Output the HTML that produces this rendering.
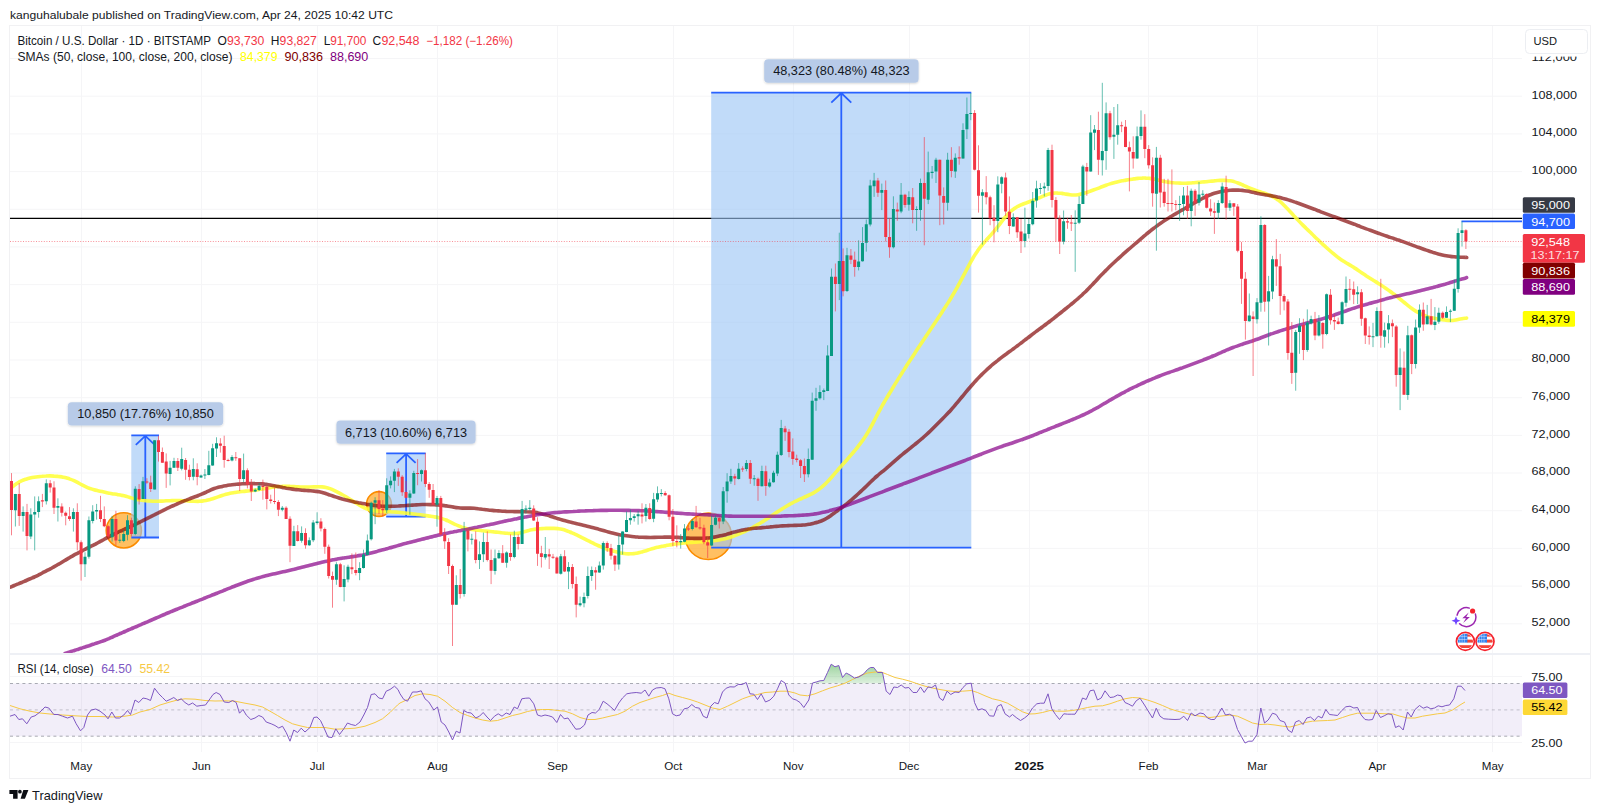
<!DOCTYPE html>
<html lang="en"><head><meta charset="utf-8"><title>BTCUSD chart</title>
<style>html,body{margin:0;padding:0;background:#fff}body{width:1600px;height:812px;overflow:hidden}svg{display:block}text{white-space:pre}</style>
</head><body>
<svg width="1600" height="812" viewBox="0 0 1600 812" font-family="'Liberation Sans', Arial, sans-serif">
<defs><filter id="sh" x="-5%" y="-20%" width="110%" height="150%"><feDropShadow dx="0" dy="0.8" stdDeviation="0.9" flood-color="#000" flood-opacity="0.18"/></filter><linearGradient id="ob" x1="0" y1="0" x2="0" y2="1"><stop offset="0" stop-color="#4caf50" stop-opacity="0.55"/><stop offset="1" stop-color="#4caf50" stop-opacity="0.05"/></linearGradient><clipPath id="main"><rect x="10" y="26" width="1512" height="627.5"/></clipPath><clipPath id="ob70"><rect x="10" y="654" width="1512" height="29.5"/></clipPath><clipPath id="c1"><circle cx="1465.4" cy="641.4" r="7.7"/></clipPath><clipPath id="c2"><circle cx="1485" cy="641.4" r="7.7"/></clipPath></defs>
<rect width="1600" height="812" fill="#fff"/>
<path d="M10 623.8H1522 M10 586.1H1522 M10 548.4H1522 M10 510.7H1522 M10 473.0H1522 M10 435.4H1522 M10 397.7H1522 M10 360.0H1522 M10 322.3H1522 M10 284.6H1522 M10 246.9H1522 M10 209.3H1522 M10 171.6H1522 M10 133.9H1522 M10 96.2H1522 M10 58.5H1522 M10 676.5H1522 M10 742.5H1522 M81.5 26V752 M201.5 26V752 M317.5 26V752 M437.5 26V752 M557.5 26V752 M673.5 26V752 M793.5 26V752 M909.5 26V752 M1029.5 26V752 M1148.5 26V752 M1257.5 26V752 M1377.5 26V752 M1492.5 26V752" stroke="#f5f5f7" stroke-width="1" fill="none"/>
<rect x="10" y="683.5" width="1512" height="52.7" fill="#7e57c2" fill-opacity="0.1"/>
<path d="M10 683.5H1522" stroke="#787b86" stroke-opacity="0.62" stroke-width="1" stroke-dasharray="3 3.2" fill="none"/>
<path d="M10 709.9H1522" stroke="#787b86" stroke-opacity="0.4" stroke-width="1" stroke-dasharray="3 3.2" fill="none"/>
<path d="M10 736.2H1522" stroke="#787b86" stroke-opacity="0.62" stroke-width="1" stroke-dasharray="3 3.2" fill="none"/>
<g clip-path="url(#main)">
<circle cx="123.8" cy="530.4" r="17.6" fill="#ffa726" fill-opacity="0.72" stroke="#fb8c00" stroke-width="1.6"/>
<circle cx="379.0" cy="504.0" r="12.4" fill="#ffa726" fill-opacity="0.72" stroke="#fb8c00" stroke-width="1.6"/>
<circle cx="708.4" cy="536.3" r="23.2" fill="#ffa726" fill-opacity="0.72" stroke="#fb8c00" stroke-width="1.6"/>
<path d="M10 218.4H1522" stroke="#000" stroke-width="1.3" fill="none"/>
<rect x="131.3" y="435.4" width="27.7" height="102.1" fill="#9bc5f5" fill-opacity="0.62"/>
<path d="M131.3 435.4H159.0M131.3 537.5H159.0M145.3 435.4V537.5M135.8 444.9L145.3 435.9L154.8 444.9" stroke="#2962ff" stroke-width="1.8" fill="none"/>
<rect x="386.2" y="453.4" width="39.5" height="63.2" fill="#9bc5f5" fill-opacity="0.62"/>
<path d="M386.2 453.4H425.7M386.2 516.6H425.7M406.1 453.4V516.6M396.6 462.9L406.1 453.9L415.6 462.9" stroke="#2962ff" stroke-width="1.8" fill="none"/>
<rect x="711.2" y="92.6" width="260.1" height="455.0" fill="#9bc5f5" fill-opacity="0.62"/>
<path d="M711.2 92.6H971.3M711.2 547.6H971.3M841.3 92.6V547.6M831.3 102.6L841.3 93.1L851.3 102.6" stroke="#2962ff" stroke-width="1.8" fill="none"/>
<path d="M1461.5 221.3H1522" stroke="#2962ff" stroke-width="1.8" fill="none"/>
<path d="M10.0 488.8C10.7 488.3 12.7 486.5 14.0 485.5C15.3 484.5 16.7 483.5 18.0 482.7C19.3 481.9 20.7 481.2 22.0 480.6C23.3 480.0 24.7 479.6 26.0 479.2C27.3 478.8 28.7 478.4 30.0 478.1C31.3 477.8 32.7 477.5 34.0 477.3C35.3 477.1 36.7 476.9 38.0 476.7C39.3 476.6 40.7 476.4 42.0 476.3C43.3 476.1 44.7 476.0 46.0 476.0C47.3 475.9 48.7 475.9 50.0 475.9C51.3 475.9 52.7 476.0 54.0 476.1C55.3 476.1 56.7 476.2 58.0 476.4C59.3 476.5 60.7 476.7 62.0 476.9C63.3 477.2 64.7 477.4 66.0 477.8C67.3 478.2 68.7 478.6 70.0 479.1C71.3 479.5 72.7 480.1 74.0 480.7C75.3 481.3 76.7 482.0 78.0 482.7C79.3 483.4 80.7 484.2 82.0 484.8C83.3 485.5 84.7 486.2 86.0 486.8C87.3 487.4 88.7 488.0 90.0 488.5C91.3 488.9 92.7 489.3 94.0 489.7C95.3 490.1 96.7 490.4 98.0 490.7C99.3 491.0 100.7 491.3 102.0 491.6C103.3 491.9 104.7 492.2 106.0 492.5C107.3 492.8 108.7 493.0 110.0 493.3C111.3 493.5 112.7 493.8 114.0 494.0C115.3 494.2 116.7 494.4 118.0 494.7C119.3 494.9 120.7 495.1 122.0 495.4C123.3 495.6 124.7 495.9 126.0 496.3C127.3 496.7 128.7 497.1 130.0 497.5C131.3 497.9 132.7 498.4 134.0 498.7C135.3 499.1 136.7 499.4 138.0 499.6C139.3 499.9 140.7 500.1 142.0 500.3C143.3 500.5 144.7 500.6 146.0 500.7C147.3 500.9 148.7 501.0 150.0 501.0C151.3 501.1 152.7 501.2 154.0 501.2C155.3 501.2 156.7 501.2 158.0 501.2C159.3 501.2 160.7 501.1 162.0 501.1C163.3 501.0 164.7 500.9 166.0 500.8C167.3 500.8 168.7 500.7 170.0 500.7C171.3 500.6 172.7 500.6 174.0 500.5C175.3 500.5 176.7 500.5 178.0 500.5C179.3 500.5 180.7 500.5 182.0 500.6C183.3 500.6 184.7 500.7 186.0 500.8C187.3 500.9 188.7 501.0 190.0 501.1C191.3 501.2 192.7 501.3 194.0 501.3C195.3 501.4 196.7 501.4 198.0 501.4C199.3 501.3 200.7 501.3 202.0 501.1C203.3 500.9 204.7 500.7 206.0 500.5C207.3 500.2 208.7 499.8 210.0 499.5C211.3 499.1 212.7 498.7 214.0 498.2C215.3 497.8 216.7 497.4 218.0 496.9C219.3 496.5 220.7 496.0 222.0 495.5C223.3 495.1 224.7 494.7 226.0 494.3C227.3 493.9 228.7 493.6 230.0 493.3C231.3 493.0 232.7 492.8 234.0 492.6C235.3 492.3 236.7 492.2 238.0 492.0C239.3 491.8 240.7 491.7 242.0 491.5C243.3 491.4 244.7 491.3 246.0 491.1C247.3 491.0 248.7 490.9 250.0 490.8C251.3 490.6 252.7 490.5 254.0 490.3C255.3 490.1 256.7 489.9 258.0 489.7C259.3 489.5 260.7 489.2 262.0 489.0C263.3 488.8 264.7 488.5 266.0 488.3C267.3 488.1 268.7 487.8 270.0 487.6C271.3 487.4 272.7 487.1 274.0 486.9C275.3 486.8 276.7 486.6 278.0 486.5C279.3 486.4 280.7 486.3 282.0 486.3C283.3 486.2 284.7 486.3 286.0 486.3C287.3 486.3 288.7 486.3 290.0 486.4C291.3 486.4 292.7 486.5 294.0 486.6C295.3 486.7 296.7 486.8 298.0 486.8C299.3 486.9 300.7 487.0 302.0 487.0C303.3 487.0 304.7 487.1 306.0 487.0C307.3 487.0 308.7 487.0 310.0 487.0C311.3 486.9 312.7 486.9 314.0 486.9C315.3 486.9 316.7 486.8 318.0 486.8C319.3 486.8 320.7 486.8 322.0 486.9C323.3 487.0 324.7 487.2 326.0 487.5C327.3 487.8 328.7 488.2 330.0 488.6C331.3 489.1 332.7 489.7 334.0 490.3C335.3 490.9 336.7 491.6 338.0 492.3C339.3 493.0 340.7 493.7 342.0 494.5C343.3 495.2 344.7 496.0 346.0 496.8C347.3 497.6 348.7 498.4 350.0 499.2C351.3 500.0 352.7 500.9 354.0 501.7C355.3 502.6 356.7 503.5 358.0 504.3C359.3 505.1 360.7 505.9 362.0 506.6C363.3 507.3 364.7 508.0 366.0 508.5C367.3 509.1 368.7 509.5 370.0 509.8C371.3 510.2 372.7 510.4 374.0 510.6C375.3 510.8 376.7 510.9 378.0 511.1C379.3 511.2 380.7 511.3 382.0 511.4C383.3 511.5 384.7 511.5 386.0 511.6C387.3 511.7 388.7 511.8 390.0 511.8C391.3 511.9 392.7 512.0 394.0 512.0C395.3 512.1 396.7 512.2 398.0 512.3C399.3 512.4 400.7 512.5 402.0 512.7C403.3 512.8 404.7 512.9 406.0 513.1C407.3 513.2 408.7 513.4 410.0 513.5C411.3 513.7 412.7 513.8 414.0 514.0C415.3 514.2 416.7 514.3 418.0 514.5C419.3 514.7 420.7 514.9 422.0 515.0C423.3 515.2 424.7 515.4 426.0 515.6C427.3 515.8 428.7 515.9 430.0 516.1C431.3 516.3 432.7 516.5 434.0 516.8C435.3 517.0 436.7 517.2 438.0 517.5C439.3 517.9 440.7 518.2 442.0 518.6C443.3 519.0 444.7 519.5 446.0 520.0C447.3 520.6 448.7 521.2 450.0 521.8C451.3 522.4 452.7 523.1 454.0 523.8C455.3 524.4 456.7 525.1 458.0 525.7C459.3 526.3 460.7 526.8 462.0 527.3C463.3 527.7 464.7 528.1 466.0 528.4C467.3 528.7 468.7 529.0 470.0 529.2C471.3 529.4 472.7 529.6 474.0 529.8C475.3 530.0 476.7 530.1 478.0 530.3C479.3 530.4 480.7 530.5 482.0 530.7C483.3 530.8 484.7 530.9 486.0 531.1C487.3 531.2 488.7 531.3 490.0 531.5C491.3 531.6 492.7 531.7 494.0 531.9C495.3 532.0 496.7 532.2 498.0 532.3C499.3 532.5 500.7 532.6 502.0 532.8C503.3 532.9 504.7 533.1 506.0 533.2C507.3 533.3 508.7 533.5 510.0 533.5C511.3 533.6 512.7 533.6 514.0 533.6C515.3 533.5 516.7 533.4 518.0 533.2C519.3 533.0 520.7 532.7 522.0 532.4C523.3 532.1 524.7 531.6 526.0 531.2C527.3 530.9 528.7 530.5 530.0 530.1C531.3 529.8 532.7 529.6 534.0 529.4C535.3 529.2 536.7 529.0 538.0 528.9C539.3 528.8 540.7 528.7 542.0 528.6C543.3 528.5 544.7 528.5 546.0 528.4C547.3 528.4 548.7 528.4 550.0 528.4C551.3 528.4 552.7 528.4 554.0 528.4C555.3 528.4 556.7 528.5 558.0 528.6C559.3 528.8 560.7 529.0 562.0 529.3C563.3 529.6 564.7 530.0 566.0 530.5C567.3 530.9 568.7 531.5 570.0 532.0C571.3 532.6 572.7 533.1 574.0 533.7C575.3 534.3 576.7 535.0 578.0 535.6C579.3 536.2 580.7 536.9 582.0 537.6C583.3 538.2 584.7 538.9 586.0 539.6C587.3 540.3 588.7 540.9 590.0 541.6C591.3 542.3 592.7 542.9 594.0 543.6C595.3 544.2 596.7 544.9 598.0 545.5C599.3 546.1 600.7 546.6 602.0 547.2C603.3 547.7 604.7 548.2 606.0 548.7C607.3 549.2 608.7 549.7 610.0 550.1C611.3 550.5 612.7 550.9 614.0 551.3C615.3 551.7 616.7 552.0 618.0 552.4C619.3 552.7 620.7 553.0 622.0 553.2C623.3 553.4 624.7 553.6 626.0 553.7C627.3 553.8 628.7 553.9 630.0 553.8C631.3 553.8 632.7 553.8 634.0 553.6C635.3 553.4 636.7 553.2 638.0 552.9C639.3 552.7 640.7 552.3 642.0 551.9C643.3 551.6 644.7 551.1 646.0 550.7C647.3 550.3 648.7 549.8 650.0 549.4C651.3 549.0 652.7 548.6 654.0 548.2C655.3 547.8 656.7 547.5 658.0 547.2C659.3 546.9 660.7 546.6 662.0 546.3C663.3 546.1 664.7 545.8 666.0 545.6C667.3 545.3 668.7 545.1 670.0 544.9C671.3 544.7 672.7 544.5 674.0 544.3C675.3 544.1 676.7 543.9 678.0 543.7C679.3 543.5 680.7 543.4 682.0 543.2C683.3 543.1 684.7 543.0 686.0 542.8C687.3 542.7 688.7 542.6 690.0 542.5C691.3 542.4 692.7 542.3 694.0 542.2C695.3 542.1 696.7 542.1 698.0 542.0C699.3 541.9 700.7 541.8 702.0 541.8C703.3 541.7 704.7 541.6 706.0 541.5C707.3 541.4 708.7 541.2 710.0 541.1C711.3 540.9 712.7 540.8 714.0 540.6C715.3 540.5 716.7 540.3 718.0 540.1C719.3 539.8 720.7 539.6 722.0 539.3C723.3 539.1 724.7 538.8 726.0 538.5C727.3 538.1 728.7 537.8 730.0 537.4C731.3 537.0 732.7 536.5 734.0 536.0C735.3 535.5 736.7 535.0 738.0 534.4C739.3 533.9 740.7 533.3 742.0 532.7C743.3 532.1 744.7 531.5 746.0 530.9C747.3 530.2 748.7 529.5 750.0 528.8C751.3 528.2 752.7 527.4 754.0 526.7C755.3 526.0 756.7 525.2 758.0 524.4C759.3 523.6 760.7 522.8 762.0 522.0C763.3 521.2 764.7 520.4 766.0 519.5C767.3 518.7 768.7 517.8 770.0 516.9C771.3 516.0 772.7 515.1 774.0 514.2C775.3 513.3 776.7 512.4 778.0 511.5C779.3 510.6 780.7 509.8 782.0 508.9C783.3 508.1 784.7 507.3 786.0 506.5C787.3 505.7 788.7 504.9 790.0 504.1C791.3 503.4 792.7 502.7 794.0 502.0C795.3 501.3 796.7 500.7 798.0 500.1C799.3 499.5 800.7 498.9 802.0 498.3C803.3 497.7 804.7 497.1 806.0 496.5C807.3 496.0 808.7 495.4 810.0 494.7C811.3 494.1 812.7 493.4 814.0 492.6C815.3 491.8 816.7 490.9 818.0 490.0C819.3 489.0 820.7 488.0 822.0 486.9C823.3 485.8 824.7 484.6 826.0 483.3C827.3 481.9 828.7 480.5 830.0 479.0C831.3 477.5 832.7 475.9 834.0 474.4C835.3 472.8 836.7 471.3 838.0 469.8C839.3 468.3 840.7 466.8 842.0 465.3C843.3 463.8 844.7 462.3 846.0 460.8C847.3 459.3 848.7 457.8 850.0 456.2C851.3 454.7 852.7 453.1 854.0 451.5C855.3 449.9 856.7 448.3 858.0 446.6C859.3 444.9 860.7 443.2 862.0 441.3C863.3 439.5 864.7 437.6 866.0 435.4C867.3 433.3 868.7 431.1 870.0 428.7C871.3 426.3 872.7 423.7 874.0 421.1C875.3 418.6 876.7 415.9 878.0 413.4C879.3 410.9 880.7 408.4 882.0 406.0C883.3 403.6 884.7 401.4 886.0 399.1C887.3 396.9 888.7 394.7 890.0 392.5C891.3 390.3 892.7 388.1 894.0 385.9C895.3 383.7 896.7 381.5 898.0 379.4C899.3 377.2 900.7 375.1 902.0 373.0C903.3 370.9 904.7 368.8 906.0 366.7C907.3 364.6 908.7 362.6 910.0 360.5C911.3 358.5 912.7 356.4 914.0 354.4C915.3 352.4 916.7 350.3 918.0 348.3C919.3 346.3 920.7 344.3 922.0 342.3C923.3 340.3 924.7 338.3 926.0 336.3C927.3 334.3 928.7 332.3 930.0 330.3C931.3 328.3 932.7 326.3 934.0 324.3C935.3 322.2 936.7 320.2 938.0 318.2C939.3 316.2 940.7 314.2 942.0 312.2C943.3 310.1 944.7 308.1 946.0 306.0C947.3 303.9 948.7 301.8 950.0 299.7C951.3 297.5 952.7 295.2 954.0 292.9C955.3 290.6 956.7 288.2 958.0 285.8C959.3 283.4 960.7 280.9 962.0 278.4C963.3 275.9 964.7 273.3 966.0 270.8C967.3 268.3 968.7 265.7 970.0 263.3C971.3 260.9 972.7 258.6 974.0 256.4C975.3 254.2 976.7 252.2 978.0 250.3C979.3 248.4 980.7 246.7 982.0 245.1C983.3 243.4 984.7 241.9 986.0 240.4C987.3 238.8 988.7 237.4 990.0 235.9C991.3 234.4 992.7 232.9 994.0 231.3C995.3 229.7 996.7 228.1 998.0 226.4C999.3 224.7 1000.7 222.9 1002.0 221.2C1003.3 219.5 1004.7 217.8 1006.0 216.3C1007.3 214.7 1008.7 213.3 1010.0 212.1C1011.3 210.8 1012.7 209.7 1014.0 208.8C1015.3 207.8 1016.7 207.1 1018.0 206.3C1019.3 205.6 1020.7 205.0 1022.0 204.5C1023.3 203.9 1024.7 203.4 1026.0 203.0C1027.3 202.5 1028.7 202.0 1030.0 201.5C1031.3 201.0 1032.7 200.6 1034.0 200.0C1035.3 199.5 1036.7 198.9 1038.0 198.3C1039.3 197.8 1040.7 197.2 1042.0 196.6C1043.3 196.0 1044.7 195.5 1046.0 195.0C1047.3 194.6 1048.7 194.1 1050.0 193.8C1051.3 193.5 1052.7 193.3 1054.0 193.1C1055.3 193.0 1056.7 193.0 1058.0 193.1C1059.3 193.1 1060.7 193.3 1062.0 193.4C1063.3 193.6 1064.7 193.9 1066.0 194.1C1067.3 194.3 1068.7 194.5 1070.0 194.7C1071.3 194.9 1072.7 195.0 1074.0 195.0C1075.3 195.0 1076.7 194.9 1078.0 194.7C1079.3 194.5 1080.7 194.2 1082.0 193.8C1083.3 193.5 1084.7 193.0 1086.0 192.6C1087.3 192.2 1088.7 191.7 1090.0 191.3C1091.3 190.8 1092.7 190.3 1094.0 189.8C1095.3 189.4 1096.7 188.9 1098.0 188.4C1099.3 187.9 1100.7 187.3 1102.0 186.8C1103.3 186.3 1104.7 185.8 1106.0 185.3C1107.3 184.8 1108.7 184.3 1110.0 183.9C1111.3 183.5 1112.7 183.1 1114.0 182.7C1115.3 182.4 1116.7 182.0 1118.0 181.7C1119.3 181.4 1120.7 181.1 1122.0 180.8C1123.3 180.6 1124.7 180.3 1126.0 180.1C1127.3 179.9 1128.7 179.7 1130.0 179.5C1131.3 179.3 1132.7 179.1 1134.0 178.9C1135.3 178.7 1136.7 178.6 1138.0 178.4C1139.3 178.3 1140.7 178.1 1142.0 178.1C1143.3 178.0 1144.7 178.0 1146.0 178.1C1147.3 178.1 1148.7 178.3 1150.0 178.4C1151.3 178.6 1152.7 178.9 1154.0 179.1C1155.3 179.4 1156.7 179.7 1158.0 180.0C1159.3 180.3 1160.7 180.7 1162.0 181.0C1163.3 181.3 1164.7 181.5 1166.0 181.8C1167.3 182.0 1168.7 182.2 1170.0 182.4C1171.3 182.5 1172.7 182.6 1174.0 182.8C1175.3 182.9 1176.7 183.0 1178.0 183.0C1179.3 183.1 1180.7 183.1 1182.0 183.2C1183.3 183.2 1184.7 183.2 1186.0 183.2C1187.3 183.1 1188.7 183.1 1190.0 183.0C1191.3 183.0 1192.7 182.8 1194.0 182.7C1195.3 182.6 1196.7 182.5 1198.0 182.4C1199.3 182.3 1200.7 182.2 1202.0 182.0C1203.3 181.9 1204.7 181.8 1206.0 181.7C1207.3 181.6 1208.7 181.4 1210.0 181.3C1211.3 181.2 1212.7 181.0 1214.0 180.9C1215.3 180.7 1216.7 180.6 1218.0 180.5C1219.3 180.4 1220.7 180.4 1222.0 180.3C1223.3 180.3 1224.7 180.3 1226.0 180.4C1227.3 180.5 1228.7 180.6 1230.0 180.8C1231.3 181.0 1232.7 181.3 1234.0 181.6C1235.3 182.0 1236.7 182.5 1238.0 183.0C1239.3 183.5 1240.7 184.1 1242.0 184.7C1243.3 185.3 1244.7 185.9 1246.0 186.5C1247.3 187.1 1248.7 187.7 1250.0 188.2C1251.3 188.7 1252.7 189.2 1254.0 189.7C1255.3 190.2 1256.7 190.7 1258.0 191.1C1259.3 191.6 1260.7 192.0 1262.0 192.5C1263.3 192.9 1264.7 193.3 1266.0 193.8C1267.3 194.3 1268.7 194.8 1270.0 195.4C1271.3 196.0 1272.7 196.6 1274.0 197.4C1275.3 198.1 1276.7 199.0 1278.0 199.9C1279.3 200.9 1280.7 202.0 1282.0 203.2C1283.3 204.4 1284.7 205.8 1286.0 207.2C1287.3 208.5 1288.7 210.0 1290.0 211.5C1291.3 212.9 1292.7 214.4 1294.0 215.9C1295.3 217.3 1296.7 218.7 1298.0 220.1C1299.3 221.5 1300.7 222.9 1302.0 224.2C1303.3 225.6 1304.7 226.9 1306.0 228.2C1307.3 229.5 1308.7 230.8 1310.0 232.1C1311.3 233.4 1312.7 234.7 1314.0 236.0C1315.3 237.3 1316.7 238.6 1318.0 239.8C1319.3 241.1 1320.7 242.3 1322.0 243.6C1323.3 244.8 1324.7 246.0 1326.0 247.2C1327.3 248.4 1328.7 249.6 1330.0 250.8C1331.3 252.0 1332.7 253.1 1334.0 254.2C1335.3 255.3 1336.7 256.4 1338.0 257.4C1339.3 258.4 1340.7 259.3 1342.0 260.2C1343.3 261.1 1344.7 261.9 1346.0 262.7C1347.3 263.5 1348.7 264.3 1350.0 265.1C1351.3 265.9 1352.7 266.7 1354.0 267.6C1355.3 268.4 1356.7 269.3 1358.0 270.2C1359.3 271.1 1360.7 272.1 1362.0 273.0C1363.3 273.9 1364.7 274.8 1366.0 275.7C1367.3 276.5 1368.7 277.4 1370.0 278.2C1371.3 279.1 1372.7 279.9 1374.0 280.7C1375.3 281.5 1376.7 282.3 1378.0 283.2C1379.3 284.0 1380.7 284.9 1382.0 285.8C1383.3 286.6 1384.7 287.6 1386.0 288.5C1387.3 289.4 1388.7 290.4 1390.0 291.3C1391.3 292.3 1392.7 293.3 1394.0 294.3C1395.3 295.3 1396.7 296.3 1398.0 297.4C1399.3 298.5 1400.7 299.5 1402.0 300.6C1403.3 301.7 1404.7 302.8 1406.0 303.9C1407.3 305.0 1408.7 306.1 1410.0 307.1C1411.3 308.1 1412.7 309.1 1414.0 310.0C1415.3 310.9 1416.7 311.8 1418.0 312.5C1419.3 313.2 1420.7 313.9 1422.0 314.5C1423.3 315.1 1424.7 315.6 1426.0 316.1C1427.3 316.6 1428.7 317.0 1430.0 317.4C1431.3 317.7 1432.7 318.1 1434.0 318.3C1435.3 318.6 1436.7 318.8 1438.0 319.0C1439.3 319.2 1440.7 319.4 1442.0 319.6C1443.3 319.8 1444.7 320.0 1446.0 320.1C1447.3 320.3 1448.7 320.5 1450.0 320.5C1451.3 320.5 1452.7 320.5 1454.0 320.3C1455.3 320.1 1456.7 319.8 1458.0 319.5C1459.3 319.2 1460.7 318.9 1462.0 318.7C1463.3 318.5 1465.2 318.3 1466.0 318.2C1466.8 318.1 1466.5 318.1 1466.6 318.1" stroke="#ffff33" stroke-opacity="0.85" stroke-width="3.6" stroke-linejoin="round" stroke-linecap="round" fill="none"/>
<path d="M10.3 587.2C11.0 586.9 13.0 586.1 14.3 585.5C15.6 585.0 17.0 584.4 18.3 583.9C19.6 583.3 21.0 582.7 22.3 582.2C23.6 581.6 25.0 581.1 26.3 580.5C27.6 579.9 29.0 579.3 30.3 578.8C31.6 578.2 33.0 577.6 34.3 577.0C35.6 576.4 37.0 575.7 38.3 575.1C39.6 574.4 41.0 573.7 42.3 573.0C43.6 572.3 45.0 571.6 46.3 570.9C47.6 570.2 49.0 569.5 50.3 568.8C51.6 568.1 53.0 567.3 54.3 566.6C55.6 565.9 57.0 565.1 58.3 564.3C59.6 563.6 61.0 562.8 62.3 562.0C63.6 561.2 65.0 560.4 66.3 559.6C67.6 558.8 69.0 558.0 70.3 557.2C71.6 556.5 73.0 555.7 74.3 554.9C75.6 554.2 77.0 553.5 78.3 552.8C79.6 552.1 81.0 551.4 82.3 550.8C83.6 550.1 85.0 549.4 86.3 548.7C87.6 548.1 89.0 547.4 90.3 546.7C91.6 546.0 93.0 545.4 94.3 544.7C95.6 544.0 97.0 543.2 98.3 542.5C99.6 541.8 101.0 541.0 102.3 540.3C103.6 539.6 105.0 538.8 106.3 538.1C107.6 537.4 109.0 536.7 110.3 536.0C111.6 535.3 113.0 534.6 114.3 534.0C115.6 533.3 117.0 532.7 118.3 532.1C119.6 531.5 121.0 530.9 122.3 530.3C123.6 529.7 125.0 529.1 126.3 528.5C127.6 527.9 129.0 527.3 130.3 526.7C131.6 526.1 133.0 525.4 134.3 524.8C135.6 524.1 137.0 523.4 138.3 522.8C139.6 522.1 141.0 521.4 142.3 520.8C143.6 520.1 145.0 519.4 146.3 518.8C147.6 518.1 149.0 517.4 150.3 516.8C151.6 516.1 153.0 515.4 154.3 514.8C155.6 514.1 157.0 513.4 158.3 512.8C159.6 512.1 161.0 511.4 162.3 510.8C163.6 510.1 165.0 509.4 166.3 508.8C167.6 508.2 169.0 507.5 170.3 506.9C171.6 506.3 173.0 505.7 174.3 505.2C175.6 504.6 177.0 504.0 178.3 503.4C179.6 502.9 181.0 502.3 182.3 501.7C183.6 501.2 185.0 500.6 186.3 500.1C187.6 499.5 189.0 499.0 190.3 498.5C191.6 498.0 193.0 497.5 194.3 497.0C195.6 496.5 197.0 496.1 198.3 495.5C199.6 495.0 201.0 494.5 202.3 493.9C203.6 493.3 205.0 492.7 206.3 492.1C207.6 491.5 209.0 490.8 210.3 490.2C211.6 489.6 213.0 489.0 214.3 488.5C215.6 488.1 217.0 487.7 218.3 487.3C219.6 486.9 221.0 486.7 222.3 486.4C223.6 486.1 225.0 485.9 226.3 485.7C227.6 485.4 229.0 485.2 230.3 485.0C231.6 484.9 233.0 484.7 234.3 484.5C235.6 484.4 237.0 484.2 238.3 484.1C239.6 484.0 241.0 483.9 242.3 483.8C243.6 483.7 245.0 483.7 246.3 483.6C247.6 483.6 249.0 483.5 250.3 483.5C251.6 483.5 253.0 483.5 254.3 483.6C255.6 483.6 257.0 483.6 258.3 483.7C259.6 483.7 261.0 483.8 262.3 483.9C263.6 484.1 265.0 484.2 266.3 484.4C267.6 484.6 269.0 484.8 270.3 485.0C271.6 485.3 273.0 485.6 274.3 485.8C275.6 486.1 277.0 486.4 278.3 486.6C279.6 486.9 281.0 487.2 282.3 487.4C283.6 487.7 285.0 487.9 286.3 488.2C287.6 488.4 289.0 488.6 290.3 488.8C291.6 489.0 293.0 489.2 294.3 489.4C295.6 489.5 297.0 489.7 298.3 489.8C299.6 489.9 301.0 490.1 302.3 490.2C303.6 490.3 305.0 490.4 306.3 490.5C307.6 490.6 309.0 490.6 310.3 490.7C311.6 490.8 313.0 490.9 314.3 491.1C315.6 491.2 317.0 491.4 318.3 491.6C319.6 491.9 321.0 492.2 322.3 492.5C323.6 492.9 325.0 493.3 326.3 493.8C327.6 494.2 329.0 494.7 330.3 495.1C331.6 495.6 333.0 496.0 334.3 496.5C335.6 496.9 337.0 497.3 338.3 497.7C339.6 498.2 341.0 498.6 342.3 499.0C343.6 499.3 345.0 499.7 346.3 500.1C347.6 500.4 349.0 500.7 350.3 501.0C351.6 501.3 353.0 501.6 354.3 501.9C355.6 502.2 357.0 502.4 358.3 502.7C359.6 503.0 361.0 503.2 362.3 503.5C363.6 503.7 365.0 503.9 366.3 504.2C367.6 504.4 369.0 504.6 370.3 504.8C371.6 505.0 373.0 505.2 374.3 505.4C375.6 505.6 377.0 505.7 378.3 505.9C379.6 506.0 381.0 506.1 382.3 506.2C383.6 506.3 385.0 506.4 386.3 506.4C387.6 506.4 389.0 506.4 390.3 506.3C391.6 506.3 393.0 506.2 394.3 506.2C395.6 506.1 397.0 506.0 398.3 506.0C399.6 505.9 401.0 505.8 402.3 505.7C403.6 505.7 405.0 505.6 406.3 505.5C407.6 505.4 409.0 505.4 410.3 505.3C411.6 505.2 413.0 505.1 414.3 505.0C415.6 504.9 417.0 504.8 418.3 504.7C419.6 504.6 421.0 504.5 422.3 504.5C423.6 504.5 425.0 504.4 426.3 504.5C427.6 504.5 429.0 504.5 430.3 504.6C431.6 504.6 433.0 504.7 434.3 504.7C435.6 504.8 437.0 504.9 438.3 505.0C439.6 505.2 441.0 505.3 442.3 505.4C443.6 505.6 445.0 505.7 446.3 505.9C447.6 506.1 449.0 506.3 450.3 506.5C451.6 506.8 453.0 507.0 454.3 507.2C455.6 507.5 457.0 507.7 458.3 507.8C459.6 508.0 461.0 508.1 462.3 508.1C463.6 508.2 465.0 508.1 466.3 508.1C467.6 508.1 469.0 508.1 470.3 508.1C471.6 508.1 473.0 508.2 474.3 508.3C475.6 508.4 477.0 508.6 478.3 508.8C479.6 508.9 481.0 509.1 482.3 509.3C483.6 509.4 485.0 509.6 486.3 509.7C487.6 509.9 489.0 510.0 490.3 510.2C491.6 510.3 493.0 510.5 494.3 510.6C495.6 510.7 497.0 510.8 498.3 510.9C499.6 511.0 501.0 511.1 502.3 511.2C503.6 511.3 505.0 511.3 506.3 511.4C507.6 511.4 509.0 511.5 510.3 511.5C511.6 511.5 513.0 511.6 514.3 511.6C515.6 511.6 517.0 511.6 518.3 511.6C519.6 511.6 521.0 511.6 522.3 511.7C523.6 511.7 525.0 511.7 526.3 511.8C527.6 511.8 529.0 511.9 530.3 512.0C531.6 512.1 533.0 512.2 534.3 512.3C535.6 512.5 537.0 512.7 538.3 513.0C539.6 513.2 541.0 513.5 542.3 513.9C543.6 514.2 545.0 514.6 546.3 514.9C547.6 515.3 549.0 515.7 550.3 516.2C551.6 516.6 553.0 517.0 554.3 517.5C555.6 517.9 557.0 518.4 558.3 518.8C559.6 519.2 561.0 519.6 562.3 520.0C563.6 520.4 565.0 520.7 566.3 521.1C567.6 521.4 569.0 521.7 570.3 522.1C571.6 522.4 573.0 522.7 574.3 523.1C575.6 523.4 577.0 523.7 578.3 524.1C579.6 524.4 581.0 524.8 582.3 525.1C583.6 525.4 585.0 525.8 586.3 526.1C587.6 526.4 589.0 526.8 590.3 527.1C591.6 527.4 593.0 527.8 594.3 528.1C595.6 528.4 597.0 528.8 598.3 529.1C599.6 529.5 601.0 529.9 602.3 530.2C603.6 530.6 605.0 531.0 606.3 531.4C607.6 531.8 609.0 532.1 610.3 532.5C611.6 532.8 613.0 533.2 614.3 533.5C615.6 533.8 617.0 534.1 618.3 534.4C619.6 534.7 621.0 535.0 622.3 535.2C623.6 535.4 625.0 535.6 626.3 535.8C627.6 536.0 629.0 536.2 630.3 536.3C631.6 536.5 633.0 536.6 634.3 536.7C635.6 536.9 637.0 537.0 638.3 537.1C639.6 537.1 641.0 537.2 642.3 537.3C643.6 537.4 645.0 537.4 646.3 537.4C647.6 537.5 649.0 537.5 650.3 537.5C651.6 537.5 653.0 537.5 654.3 537.4C655.6 537.4 657.0 537.4 658.3 537.3C659.6 537.3 661.0 537.3 662.3 537.2C663.6 537.2 665.0 537.1 666.3 537.1C667.6 537.1 669.0 537.1 670.3 537.1C671.6 537.1 673.0 537.1 674.3 537.2C675.6 537.2 677.0 537.3 678.3 537.4C679.6 537.5 681.0 537.7 682.3 537.8C683.6 537.9 685.0 538.0 686.3 538.1C687.6 538.1 689.0 538.2 690.3 538.2C691.6 538.3 693.0 538.3 694.3 538.4C695.6 538.4 697.0 538.4 698.3 538.4C699.6 538.4 701.0 538.3 702.3 538.3C703.6 538.2 705.0 538.2 706.3 538.1C707.6 538.0 709.0 537.9 710.3 537.7C711.6 537.5 713.0 537.3 714.3 537.1C715.6 536.9 717.0 536.6 718.3 536.3C719.6 536.0 721.0 535.7 722.3 535.4C723.6 535.1 725.0 534.7 726.3 534.4C727.6 534.0 729.0 533.6 730.3 533.2C731.6 532.8 733.0 532.4 734.3 532.1C735.6 531.7 737.0 531.4 738.3 531.1C739.6 530.7 741.0 530.4 742.3 530.1C743.6 529.9 745.0 529.6 746.3 529.4C747.6 529.1 749.0 528.9 750.3 528.8C751.6 528.6 753.0 528.5 754.3 528.3C755.6 528.2 757.0 528.1 758.3 528.0C759.6 527.9 761.0 527.8 762.3 527.6C763.6 527.5 765.0 527.4 766.3 527.3C767.6 527.1 769.0 527.0 770.3 526.9C771.6 526.8 773.0 526.7 774.3 526.5C775.6 526.4 777.0 526.3 778.3 526.2C779.6 526.1 781.0 526.0 782.3 525.9C783.6 525.8 785.0 525.7 786.3 525.7C787.6 525.6 789.0 525.6 790.3 525.5C791.6 525.5 793.0 525.4 794.3 525.4C795.6 525.4 797.0 525.3 798.3 525.3C799.6 525.2 801.0 525.2 802.3 525.1C803.6 525.0 805.0 524.9 806.3 524.7C807.6 524.6 809.0 524.3 810.3 524.1C811.6 523.8 813.0 523.5 814.3 523.1C815.6 522.8 817.0 522.4 818.3 522.0C819.6 521.5 821.0 521.1 822.3 520.5C823.6 520.0 825.0 519.3 826.3 518.5C827.6 517.8 829.0 516.9 830.3 516.0C831.6 515.0 833.0 514.0 834.3 513.1C835.6 512.1 837.0 511.1 838.3 510.1C839.6 509.1 841.0 508.2 842.3 507.2C843.6 506.2 845.0 505.1 846.3 504.1C847.6 503.0 849.0 502.0 850.3 500.8C851.6 499.7 853.0 498.6 854.3 497.4C855.6 496.2 857.0 495.0 858.3 493.8C859.6 492.6 861.0 491.3 862.3 490.0C863.6 488.8 865.0 487.5 866.3 486.2C867.6 484.9 869.0 483.5 870.3 482.2C871.6 481.0 873.0 479.7 874.3 478.5C875.6 477.2 877.0 476.1 878.3 475.0C879.6 473.8 881.0 472.8 882.3 471.7C883.6 470.6 885.0 469.5 886.3 468.4C887.6 467.2 889.0 466.1 890.3 464.9C891.6 463.8 893.0 462.6 894.3 461.4C895.6 460.2 897.0 459.1 898.3 457.9C899.6 456.8 901.0 455.6 902.3 454.5C903.6 453.4 905.0 452.3 906.3 451.3C907.6 450.2 909.0 449.1 910.3 448.1C911.6 447.0 913.0 445.9 914.3 444.9C915.6 443.8 917.0 442.7 918.3 441.6C919.6 440.6 921.0 439.5 922.3 438.3C923.6 437.2 925.0 436.0 926.3 434.8C927.6 433.6 929.0 432.3 930.3 431.0C931.6 429.7 933.0 428.3 934.3 427.0C935.6 425.7 937.0 424.3 938.3 423.0C939.6 421.7 941.0 420.3 942.3 419.0C943.6 417.7 945.0 416.3 946.3 414.9C947.6 413.5 949.0 412.1 950.3 410.7C951.6 409.2 953.0 407.6 954.3 406.1C955.6 404.5 957.0 402.9 958.3 401.3C959.6 399.7 961.0 398.1 962.3 396.5C963.6 394.9 965.0 393.3 966.3 391.7C967.6 390.1 969.0 388.5 970.3 387.0C971.6 385.4 973.0 383.9 974.3 382.4C975.6 380.9 977.0 379.5 978.3 378.1C979.6 376.7 981.0 375.4 982.3 374.0C983.6 372.7 985.0 371.4 986.3 370.2C987.6 369.0 989.0 367.8 990.3 366.6C991.6 365.4 993.0 364.3 994.3 363.2C995.6 362.1 997.0 361.1 998.3 360.0C999.6 359.0 1001.0 357.9 1002.3 356.9C1003.6 355.9 1005.0 354.9 1006.3 354.0C1007.6 353.0 1009.0 352.0 1010.3 351.1C1011.6 350.1 1013.0 349.1 1014.3 348.1C1015.6 347.1 1017.0 346.1 1018.3 345.1C1019.6 344.1 1021.0 343.1 1022.3 342.1C1023.6 341.0 1025.0 340.0 1026.3 339.0C1027.6 338.0 1029.0 337.0 1030.3 336.0C1031.6 335.0 1033.0 333.9 1034.3 332.9C1035.6 331.9 1037.0 330.9 1038.3 329.9C1039.6 328.9 1041.0 328.0 1042.3 327.0C1043.6 326.0 1045.0 325.0 1046.3 324.0C1047.6 323.0 1049.0 322.0 1050.3 321.0C1051.6 319.9 1053.0 318.9 1054.3 317.8C1055.6 316.8 1057.0 315.7 1058.3 314.7C1059.6 313.6 1061.0 312.5 1062.3 311.5C1063.6 310.4 1065.0 309.3 1066.3 308.3C1067.6 307.2 1069.0 306.1 1070.3 305.0C1071.6 303.9 1073.0 302.9 1074.3 301.7C1075.6 300.6 1077.0 299.4 1078.3 298.3C1079.6 297.1 1081.0 295.9 1082.3 294.7C1083.6 293.4 1085.0 292.2 1086.3 290.9C1087.6 289.6 1089.0 288.2 1090.3 286.8C1091.6 285.4 1093.0 284.0 1094.3 282.5C1095.6 281.1 1097.0 279.7 1098.3 278.3C1099.6 276.8 1101.0 275.4 1102.3 274.1C1103.6 272.7 1105.0 271.4 1106.3 270.0C1107.6 268.7 1109.0 267.4 1110.3 266.1C1111.6 264.8 1113.0 263.5 1114.3 262.3C1115.6 261.0 1117.0 259.8 1118.3 258.6C1119.6 257.4 1121.0 256.2 1122.3 255.0C1123.6 253.8 1125.0 252.6 1126.3 251.4C1127.6 250.3 1129.0 249.1 1130.3 248.0C1131.6 246.8 1133.0 245.7 1134.3 244.5C1135.6 243.4 1137.0 242.2 1138.3 241.1C1139.6 240.0 1141.0 238.8 1142.3 237.7C1143.6 236.5 1145.0 235.4 1146.3 234.2C1147.6 233.1 1149.0 232.0 1150.3 231.0C1151.6 229.9 1153.0 228.9 1154.3 227.9C1155.6 226.9 1157.0 225.9 1158.3 224.9C1159.6 224.0 1161.0 223.0 1162.3 222.1C1163.6 221.2 1165.0 220.3 1166.3 219.5C1167.6 218.6 1169.0 217.8 1170.3 216.9C1171.6 216.1 1173.0 215.3 1174.3 214.5C1175.6 213.7 1177.0 213.0 1178.3 212.2C1179.6 211.4 1181.0 210.7 1182.3 209.9C1183.6 209.1 1185.0 208.4 1186.3 207.6C1187.6 206.9 1189.0 206.1 1190.3 205.3C1191.6 204.5 1193.0 203.7 1194.3 202.9C1195.6 202.2 1197.0 201.4 1198.3 200.6C1199.6 199.9 1201.0 199.2 1202.3 198.5C1203.6 197.8 1205.0 197.1 1206.3 196.5C1207.6 195.9 1209.0 195.3 1210.3 194.8C1211.6 194.2 1213.0 193.7 1214.3 193.3C1215.6 192.9 1217.0 192.5 1218.3 192.2C1219.6 191.9 1221.0 191.6 1222.3 191.3C1223.6 191.1 1225.0 190.9 1226.3 190.7C1227.6 190.5 1229.0 190.4 1230.3 190.3C1231.6 190.1 1233.0 190.1 1234.3 190.0C1235.6 190.0 1237.0 190.0 1238.3 190.1C1239.6 190.2 1241.0 190.3 1242.3 190.4C1243.6 190.6 1245.0 190.8 1246.3 191.0C1247.6 191.2 1249.0 191.4 1250.3 191.7C1251.6 192.0 1253.0 192.3 1254.3 192.6C1255.6 192.8 1257.0 193.2 1258.3 193.5C1259.6 193.8 1261.0 194.1 1262.3 194.3C1263.6 194.6 1265.0 194.8 1266.3 195.0C1267.6 195.2 1269.0 195.4 1270.3 195.6C1271.6 195.9 1273.0 196.1 1274.3 196.3C1275.6 196.6 1277.0 196.9 1278.3 197.2C1279.6 197.5 1281.0 197.8 1282.3 198.2C1283.6 198.5 1285.0 198.9 1286.3 199.3C1287.6 199.7 1289.0 200.1 1290.3 200.5C1291.6 200.9 1293.0 201.4 1294.3 201.9C1295.6 202.3 1297.0 202.8 1298.3 203.2C1299.6 203.7 1301.0 204.2 1302.3 204.7C1303.6 205.2 1305.0 205.7 1306.3 206.2C1307.6 206.7 1309.0 207.2 1310.3 207.7C1311.6 208.2 1313.0 208.7 1314.3 209.2C1315.6 209.8 1317.0 210.3 1318.3 210.8C1319.6 211.3 1321.0 211.9 1322.3 212.4C1323.6 212.9 1325.0 213.4 1326.3 213.9C1327.6 214.4 1329.0 214.9 1330.3 215.4C1331.6 215.9 1333.0 216.4 1334.3 216.8C1335.6 217.3 1337.0 217.8 1338.3 218.3C1339.6 218.8 1341.0 219.2 1342.3 219.7C1343.6 220.2 1345.0 220.7 1346.3 221.2C1347.6 221.7 1349.0 222.2 1350.3 222.7C1351.6 223.2 1353.0 223.7 1354.3 224.2C1355.6 224.8 1357.0 225.3 1358.3 225.8C1359.6 226.3 1361.0 226.9 1362.3 227.4C1363.6 227.9 1365.0 228.4 1366.3 228.9C1367.6 229.3 1369.0 229.8 1370.3 230.3C1371.6 230.8 1373.0 231.3 1374.3 231.7C1375.6 232.2 1377.0 232.7 1378.3 233.2C1379.6 233.7 1381.0 234.1 1382.3 234.6C1383.6 235.1 1385.0 235.6 1386.3 236.0C1387.6 236.5 1389.0 236.9 1390.3 237.4C1391.6 237.8 1393.0 238.2 1394.3 238.7C1395.6 239.1 1397.0 239.6 1398.3 240.0C1399.6 240.5 1401.0 240.9 1402.3 241.4C1403.6 241.9 1405.0 242.4 1406.3 242.9C1407.6 243.4 1409.0 243.9 1410.3 244.4C1411.6 244.9 1413.0 245.4 1414.3 245.9C1415.6 246.4 1417.0 246.8 1418.3 247.3C1419.6 247.8 1421.0 248.3 1422.3 248.7C1423.6 249.2 1425.0 249.7 1426.3 250.1C1427.6 250.6 1429.0 251.0 1430.3 251.5C1431.6 251.9 1433.0 252.4 1434.3 252.8C1435.6 253.2 1437.0 253.6 1438.3 254.0C1439.6 254.3 1441.0 254.6 1442.3 254.9C1443.6 255.2 1445.0 255.5 1446.3 255.7C1447.6 256.0 1449.0 256.2 1450.3 256.4C1451.6 256.6 1453.0 256.7 1454.3 256.8C1455.6 257.0 1457.0 257.0 1458.3 257.1C1459.6 257.2 1461.0 257.3 1462.3 257.3C1463.6 257.4 1465.6 257.4 1466.3 257.4C1467.0 257.5 1466.5 257.5 1466.6 257.5" stroke="#800000" stroke-opacity="0.68" stroke-width="3.6" stroke-linejoin="round" stroke-linecap="round" fill="none"/>
<path d="M65.0 653.5C65.7 653.3 67.7 652.6 69.0 652.2C70.3 651.8 71.7 651.3 73.0 650.9C74.3 650.5 75.7 650.0 77.0 649.6C78.3 649.2 79.7 648.7 81.0 648.3C82.3 647.9 83.7 647.4 85.0 647.0C86.3 646.5 87.7 646.1 89.0 645.7C90.3 645.2 91.7 644.8 93.0 644.3C94.3 643.9 95.7 643.4 97.0 643.0C98.3 642.6 99.7 642.1 101.0 641.6C102.3 641.2 103.7 640.7 105.0 640.2C106.3 639.7 107.7 639.1 109.0 638.6C110.3 638.0 111.7 637.4 113.0 636.8C114.3 636.3 115.7 635.6 117.0 635.0C118.3 634.5 119.7 633.8 121.0 633.3C122.3 632.7 123.7 632.1 125.0 631.5C126.3 630.9 127.7 630.3 129.0 629.7C130.3 629.1 131.7 628.6 133.0 628.0C134.3 627.4 135.7 626.9 137.0 626.3C138.3 625.7 139.7 625.1 141.0 624.6C142.3 624.0 143.7 623.4 145.0 622.8C146.3 622.3 147.7 621.7 149.0 621.1C150.3 620.5 151.7 620.0 153.0 619.4C154.3 618.8 155.7 618.2 157.0 617.6C158.3 617.1 159.7 616.5 161.0 615.9C162.3 615.3 163.7 614.7 165.0 614.2C166.3 613.6 167.7 613.0 169.0 612.5C170.3 611.9 171.7 611.4 173.0 610.8C174.3 610.3 175.7 609.7 177.0 609.2C178.3 608.7 179.7 608.1 181.0 607.6C182.3 607.1 183.7 606.5 185.0 606.0C186.3 605.5 187.7 604.9 189.0 604.4C190.3 603.9 191.7 603.3 193.0 602.8C194.3 602.3 195.7 601.7 197.0 601.2C198.3 600.7 199.7 600.1 201.0 599.6C202.3 599.1 203.7 598.5 205.0 598.0C206.3 597.5 207.7 596.9 209.0 596.4C210.3 595.9 211.7 595.3 213.0 594.8C214.3 594.3 215.7 593.7 217.0 593.2C218.3 592.7 219.7 592.1 221.0 591.6C222.3 591.1 223.7 590.5 225.0 590.0C226.3 589.5 227.7 588.9 229.0 588.4C230.3 587.9 231.7 587.3 233.0 586.8C234.3 586.3 235.7 585.7 237.0 585.2C238.3 584.7 239.7 584.2 241.0 583.7C242.3 583.2 243.7 582.7 245.0 582.2C246.3 581.7 247.7 581.3 249.0 580.8C250.3 580.4 251.7 580.0 253.0 579.5C254.3 579.1 255.7 578.7 257.0 578.3C258.3 577.9 259.7 577.5 261.0 577.1C262.3 576.7 263.7 576.3 265.0 576.0C266.3 575.7 267.7 575.3 269.0 575.0C270.3 574.7 271.7 574.4 273.0 574.1C274.3 573.8 275.7 573.5 277.0 573.2C278.3 572.9 279.7 572.6 281.0 572.3C282.3 572.0 283.7 571.7 285.0 571.4C286.3 571.1 287.7 570.8 289.0 570.5C290.3 570.2 291.7 569.9 293.0 569.6C294.3 569.2 295.7 568.9 297.0 568.6C298.3 568.3 299.7 567.9 301.0 567.6C302.3 567.3 303.7 566.9 305.0 566.6C306.3 566.3 307.7 565.9 309.0 565.6C310.3 565.3 311.7 564.9 313.0 564.6C314.3 564.3 315.7 563.9 317.0 563.6C318.3 563.3 319.7 562.9 321.0 562.6C322.3 562.3 323.7 561.9 325.0 561.6C326.3 561.3 327.7 561.0 329.0 560.7C330.3 560.4 331.7 560.1 333.0 559.8C334.3 559.6 335.7 559.3 337.0 559.1C338.3 558.8 339.7 558.6 341.0 558.4C342.3 558.2 343.7 557.9 345.0 557.7C346.3 557.5 347.7 557.4 349.0 557.2C350.3 557.0 351.7 556.8 353.0 556.6C354.3 556.4 355.7 556.2 357.0 556.0C358.3 555.7 359.7 555.5 361.0 555.3C362.3 555.0 363.7 554.8 365.0 554.5C366.3 554.2 367.7 553.9 369.0 553.6C370.3 553.2 371.7 552.9 373.0 552.5C374.3 552.1 375.7 551.7 377.0 551.4C378.3 551.0 379.7 550.6 381.0 550.2C382.3 549.9 383.7 549.5 385.0 549.2C386.3 548.8 387.7 548.5 389.0 548.1C390.3 547.8 391.7 547.4 393.0 547.0C394.3 546.7 395.7 546.3 397.0 545.9C398.3 545.5 399.7 545.1 401.0 544.7C402.3 544.3 403.7 543.9 405.0 543.6C406.3 543.2 407.7 542.8 409.0 542.5C410.3 542.1 411.7 541.8 413.0 541.5C414.3 541.1 415.7 540.8 417.0 540.5C418.3 540.2 419.7 539.8 421.0 539.5C422.3 539.2 423.7 538.9 425.0 538.5C426.3 538.2 427.7 537.9 429.0 537.5C430.3 537.2 431.7 536.9 433.0 536.5C434.3 536.2 435.7 535.9 437.0 535.5C438.3 535.2 439.7 534.9 441.0 534.5C442.3 534.2 443.7 533.9 445.0 533.6C446.3 533.3 447.7 533.1 449.0 532.8C450.3 532.5 451.7 532.2 453.0 532.0C454.3 531.7 455.7 531.5 457.0 531.2C458.3 531.0 459.7 530.7 461.0 530.5C462.3 530.2 463.7 530.0 465.0 529.7C466.3 529.5 467.7 529.2 469.0 528.9C470.3 528.7 471.7 528.4 473.0 528.1C474.3 527.8 475.7 527.5 477.0 527.3C478.3 527.0 479.7 526.7 481.0 526.4C482.3 526.1 483.7 525.9 485.0 525.6C486.3 525.3 487.7 525.0 489.0 524.8C490.3 524.5 491.7 524.2 493.0 523.9C494.3 523.6 495.7 523.3 497.0 523.0C498.3 522.7 499.7 522.4 501.0 522.1C502.3 521.7 503.7 521.4 505.0 521.1C506.3 520.9 507.7 520.6 509.0 520.3C510.3 520.0 511.7 519.8 513.0 519.5C514.3 519.2 515.7 519.0 517.0 518.7C518.3 518.4 519.7 518.1 521.0 517.9C522.3 517.6 523.7 517.3 525.0 517.0C526.3 516.8 527.7 516.5 529.0 516.3C530.3 516.0 531.7 515.8 533.0 515.5C534.3 515.3 535.7 515.0 537.0 514.8C538.3 514.6 539.7 514.4 541.0 514.2C542.3 514.0 543.7 513.8 545.0 513.7C546.3 513.5 547.7 513.4 549.0 513.2C550.3 513.1 551.7 512.9 553.0 512.8C554.3 512.7 555.7 512.6 557.0 512.5C558.3 512.4 559.7 512.3 561.0 512.2C562.3 512.1 563.7 512.0 565.0 511.9C566.3 511.9 567.7 511.8 569.0 511.7C570.3 511.6 571.7 511.5 573.0 511.5C574.3 511.4 575.7 511.3 577.0 511.3C578.3 511.2 579.7 511.1 581.0 511.0C582.3 511.0 583.7 510.9 585.0 510.9C586.3 510.8 587.7 510.7 589.0 510.7C590.3 510.6 591.7 510.6 593.0 510.6C594.3 510.5 595.7 510.5 597.0 510.5C598.3 510.5 599.7 510.5 601.0 510.4C602.3 510.4 603.7 510.4 605.0 510.4C606.3 510.4 607.7 510.3 609.0 510.3C610.3 510.3 611.7 510.3 613.0 510.3C614.3 510.3 615.7 510.3 617.0 510.3C618.3 510.3 619.7 510.3 621.0 510.3C622.3 510.3 623.7 510.3 625.0 510.4C626.3 510.4 627.7 510.4 629.0 510.4C630.3 510.4 631.7 510.5 633.0 510.5C634.3 510.5 635.7 510.5 637.0 510.6C638.3 510.6 639.7 510.7 641.0 510.7C642.3 510.7 643.7 510.8 645.0 510.8C646.3 510.9 647.7 511.0 649.0 511.0C650.3 511.1 651.7 511.2 653.0 511.3C654.3 511.4 655.7 511.5 657.0 511.6C658.3 511.7 659.7 511.8 661.0 511.9C662.3 512.0 663.7 512.1 665.0 512.2C666.3 512.3 667.7 512.4 669.0 512.5C670.3 512.6 671.7 512.7 673.0 512.8C674.3 512.9 675.7 513.0 677.0 513.1C678.3 513.2 679.7 513.3 681.0 513.4C682.3 513.5 683.7 513.6 685.0 513.7C686.3 513.8 687.7 513.9 689.0 513.9C690.3 514.0 691.7 514.0 693.0 514.1C694.3 514.2 695.7 514.2 697.0 514.3C698.3 514.3 699.7 514.4 701.0 514.5C702.3 514.5 703.7 514.6 705.0 514.7C706.3 514.8 707.7 514.8 709.0 514.9C710.3 515.0 711.7 515.1 713.0 515.2C714.3 515.3 715.7 515.4 717.0 515.5C718.3 515.6 719.7 515.6 721.0 515.7C722.3 515.8 723.7 515.9 725.0 515.9C726.3 516.0 727.7 516.0 729.0 516.1C730.3 516.1 731.7 516.2 733.0 516.2C734.3 516.2 735.7 516.2 737.0 516.3C738.3 516.3 739.7 516.3 741.0 516.3C742.3 516.3 743.7 516.3 745.0 516.3C746.3 516.3 747.7 516.3 749.0 516.3C750.3 516.3 751.7 516.3 753.0 516.3C754.3 516.3 755.7 516.3 757.0 516.3C758.3 516.3 759.7 516.3 761.0 516.3C762.3 516.3 763.7 516.3 765.0 516.3C766.3 516.3 767.7 516.3 769.0 516.3C770.3 516.3 771.7 516.3 773.0 516.3C774.3 516.2 775.7 516.2 777.0 516.2C778.3 516.1 779.7 516.1 781.0 516.1C782.3 516.0 783.7 516.0 785.0 515.9C786.3 515.9 787.7 515.8 789.0 515.8C790.3 515.8 791.7 515.7 793.0 515.7C794.3 515.6 795.7 515.6 797.0 515.5C798.3 515.4 799.7 515.4 801.0 515.3C802.3 515.2 803.7 515.1 805.0 515.0C806.3 514.9 807.7 514.8 809.0 514.7C810.3 514.6 811.7 514.4 813.0 514.2C814.3 514.0 815.7 513.8 817.0 513.6C818.3 513.3 819.7 513.1 821.0 512.8C822.3 512.5 823.7 512.2 825.0 511.9C826.3 511.6 827.7 511.2 829.0 510.9C830.3 510.5 831.7 510.2 833.0 509.8C834.3 509.4 835.7 509.1 837.0 508.7C838.3 508.3 839.7 507.9 841.0 507.4C842.3 507.0 843.7 506.5 845.0 506.0C846.3 505.6 847.7 505.1 849.0 504.6C850.3 504.1 851.7 503.5 853.0 503.0C854.3 502.5 855.7 502.0 857.0 501.5C858.3 501.0 859.7 500.5 861.0 500.0C862.3 499.5 863.7 499.0 865.0 498.5C866.3 497.9 867.7 497.4 869.0 496.9C870.3 496.4 871.7 495.9 873.0 495.4C874.3 494.9 875.7 494.4 877.0 493.9C878.3 493.4 879.7 492.9 881.0 492.4C882.3 491.9 883.7 491.4 885.0 490.8C886.3 490.3 887.7 489.8 889.0 489.3C890.3 488.8 891.7 488.3 893.0 487.8C894.3 487.3 895.7 486.8 897.0 486.3C898.3 485.8 899.7 485.3 901.0 484.8C902.3 484.3 903.7 483.8 905.0 483.2C906.3 482.7 907.7 482.2 909.0 481.7C910.3 481.2 911.7 480.7 913.0 480.2C914.3 479.7 915.7 479.2 917.0 478.7C918.3 478.2 919.7 477.6 921.0 477.1C922.3 476.6 923.7 476.1 925.0 475.6C926.3 475.1 927.7 474.6 929.0 474.1C930.3 473.6 931.7 473.0 933.0 472.5C934.3 472.0 935.7 471.5 937.0 471.0C938.3 470.5 939.7 470.0 941.0 469.5C942.3 469.0 943.7 468.5 945.0 468.0C946.3 467.5 947.7 467.0 949.0 466.5C950.3 466.0 951.7 465.5 953.0 465.0C954.3 464.5 955.7 464.0 957.0 463.5C958.3 463.0 959.7 462.5 961.0 462.0C962.3 461.5 963.7 461.0 965.0 460.5C966.3 460.0 967.7 459.5 969.0 458.9C970.3 458.4 971.7 457.9 973.0 457.3C974.3 456.8 975.7 456.3 977.0 455.8C978.3 455.2 979.7 454.7 981.0 454.2C982.3 453.7 983.7 453.1 985.0 452.6C986.3 452.1 987.7 451.6 989.0 451.1C990.3 450.6 991.7 450.1 993.0 449.6C994.3 449.1 995.7 448.6 997.0 448.1C998.3 447.6 999.7 447.1 1001.0 446.7C1002.3 446.2 1003.7 445.8 1005.0 445.3C1006.3 444.9 1007.7 444.5 1009.0 444.0C1010.3 443.6 1011.7 443.2 1013.0 442.7C1014.3 442.3 1015.7 441.8 1017.0 441.3C1018.3 440.9 1019.7 440.4 1021.0 439.9C1022.3 439.4 1023.7 439.0 1025.0 438.5C1026.3 438.0 1027.7 437.5 1029.0 437.0C1030.3 436.5 1031.7 436.0 1033.0 435.5C1034.3 434.9 1035.7 434.4 1037.0 433.8C1038.3 433.3 1039.7 432.8 1041.0 432.2C1042.3 431.7 1043.7 431.1 1045.0 430.6C1046.3 430.1 1047.7 429.5 1049.0 429.0C1050.3 428.5 1051.7 427.9 1053.0 427.4C1054.3 426.9 1055.7 426.3 1057.0 425.8C1058.3 425.3 1059.7 424.7 1061.0 424.2C1062.3 423.7 1063.7 423.1 1065.0 422.6C1066.3 422.0 1067.7 421.5 1069.0 421.0C1070.3 420.4 1071.7 419.9 1073.0 419.3C1074.3 418.8 1075.7 418.2 1077.0 417.6C1078.3 417.1 1079.7 416.5 1081.0 415.9C1082.3 415.3 1083.7 414.7 1085.0 414.1C1086.3 413.4 1087.7 412.8 1089.0 412.1C1090.3 411.4 1091.7 410.7 1093.0 410.0C1094.3 409.3 1095.7 408.6 1097.0 407.8C1098.3 407.1 1099.7 406.3 1101.0 405.5C1102.3 404.7 1103.7 403.9 1105.0 403.2C1106.3 402.4 1107.7 401.5 1109.0 400.7C1110.3 400.0 1111.7 399.2 1113.0 398.4C1114.3 397.6 1115.7 396.9 1117.0 396.1C1118.3 395.4 1119.7 394.7 1121.0 393.9C1122.3 393.2 1123.7 392.5 1125.0 391.8C1126.3 391.1 1127.7 390.4 1129.0 389.7C1130.3 389.0 1131.7 388.4 1133.0 387.7C1134.3 387.1 1135.7 386.4 1137.0 385.8C1138.3 385.1 1139.7 384.5 1141.0 383.9C1142.3 383.3 1143.7 382.7 1145.0 382.1C1146.3 381.5 1147.7 380.9 1149.0 380.3C1150.3 379.8 1151.7 379.2 1153.0 378.6C1154.3 378.1 1155.7 377.5 1157.0 377.0C1158.3 376.4 1159.7 375.9 1161.0 375.4C1162.3 374.9 1163.7 374.4 1165.0 373.9C1166.3 373.4 1167.7 372.9 1169.0 372.5C1170.3 372.0 1171.7 371.5 1173.0 371.1C1174.3 370.6 1175.7 370.2 1177.0 369.7C1178.3 369.2 1179.7 368.8 1181.0 368.3C1182.3 367.8 1183.7 367.4 1185.0 366.9C1186.3 366.4 1187.7 365.9 1189.0 365.4C1190.3 364.9 1191.7 364.4 1193.0 363.9C1194.3 363.4 1195.7 362.9 1197.0 362.4C1198.3 361.9 1199.7 361.4 1201.0 360.9C1202.3 360.4 1203.7 359.8 1205.0 359.3C1206.3 358.8 1207.7 358.2 1209.0 357.7C1210.3 357.1 1211.7 356.6 1213.0 356.0C1214.3 355.5 1215.7 354.9 1217.0 354.3C1218.3 353.7 1219.7 353.1 1221.0 352.6C1222.3 352.0 1223.7 351.4 1225.0 350.8C1226.3 350.2 1227.7 349.7 1229.0 349.1C1230.3 348.6 1231.7 348.1 1233.0 347.5C1234.3 347.0 1235.7 346.5 1237.0 346.1C1238.3 345.6 1239.7 345.1 1241.0 344.6C1242.3 344.2 1243.7 343.7 1245.0 343.3C1246.3 342.9 1247.7 342.5 1249.0 342.0C1250.3 341.6 1251.7 341.2 1253.0 340.7C1254.3 340.3 1255.7 339.8 1257.0 339.3C1258.3 338.9 1259.7 338.3 1261.0 337.8C1262.3 337.3 1263.7 336.8 1265.0 336.3C1266.3 335.8 1267.7 335.3 1269.0 334.8C1270.3 334.3 1271.7 333.8 1273.0 333.4C1274.3 332.9 1275.7 332.4 1277.0 332.0C1278.3 331.5 1279.7 331.1 1281.0 330.6C1282.3 330.2 1283.7 329.8 1285.0 329.4C1286.3 329.0 1287.7 328.6 1289.0 328.2C1290.3 327.8 1291.7 327.4 1293.0 327.0C1294.3 326.6 1295.7 326.2 1297.0 325.8C1298.3 325.5 1299.7 325.1 1301.0 324.7C1302.3 324.4 1303.7 324.0 1305.0 323.6C1306.3 323.3 1307.7 322.9 1309.0 322.5C1310.3 322.2 1311.7 321.8 1313.0 321.4C1314.3 321.1 1315.7 320.7 1317.0 320.3C1318.3 320.0 1319.7 319.6 1321.0 319.2C1322.3 318.8 1323.7 318.4 1325.0 318.0C1326.3 317.6 1327.7 317.1 1329.0 316.7C1330.3 316.3 1331.7 315.8 1333.0 315.4C1334.3 314.9 1335.7 314.5 1337.0 314.0C1338.3 313.5 1339.7 313.1 1341.0 312.6C1342.3 312.1 1343.7 311.7 1345.0 311.2C1346.3 310.7 1347.7 310.3 1349.0 309.8C1350.3 309.4 1351.7 308.9 1353.0 308.4C1354.3 308.0 1355.7 307.6 1357.0 307.1C1358.3 306.7 1359.7 306.3 1361.0 305.9C1362.3 305.5 1363.7 305.1 1365.0 304.8C1366.3 304.4 1367.7 304.0 1369.0 303.6C1370.3 303.3 1371.7 302.9 1373.0 302.5C1374.3 302.2 1375.7 301.8 1377.0 301.5C1378.3 301.1 1379.7 300.7 1381.0 300.3C1382.3 300.0 1383.7 299.5 1385.0 299.1C1386.3 298.7 1387.7 298.3 1389.0 298.0C1390.3 297.6 1391.7 297.3 1393.0 297.0C1394.3 296.7 1395.7 296.4 1397.0 296.1C1398.3 295.8 1399.7 295.5 1401.0 295.2C1402.3 294.9 1403.7 294.6 1405.0 294.3C1406.3 294.0 1407.7 293.7 1409.0 293.4C1410.3 293.1 1411.7 292.8 1413.0 292.5C1414.3 292.2 1415.7 291.8 1417.0 291.5C1418.3 291.2 1419.7 290.8 1421.0 290.5C1422.3 290.2 1423.7 289.8 1425.0 289.5C1426.3 289.2 1427.7 288.8 1429.0 288.5C1430.3 288.2 1431.7 287.8 1433.0 287.5C1434.3 287.1 1435.7 286.8 1437.0 286.4C1438.3 286.1 1439.7 285.7 1441.0 285.3C1442.3 284.9 1443.7 284.5 1445.0 284.2C1446.3 283.8 1447.7 283.4 1449.0 283.0C1450.3 282.5 1451.7 282.1 1453.0 281.7C1454.3 281.3 1455.7 280.9 1457.0 280.5C1458.3 280.1 1459.7 279.6 1461.0 279.3C1462.3 278.9 1464.1 278.6 1465.0 278.3C1465.9 278.0 1466.3 277.6 1466.6 277.5" stroke="#880088" stroke-opacity="0.7" stroke-width="3.6" stroke-linejoin="round" stroke-linecap="round" fill="none"/>
<path d="M15.4 493.9V526.5M23.1 506.4V531.6M30.8 508.3V539.1M34.7 496.4V550.4M38.6 496.4V517.7M46.3 479.4V504.5M57.9 498.3V521.5M73.4 508.3V531.6M85.0 552.3V577.0M88.9 516.5V558.6M92.7 505.2V523.4M96.6 503.9V519.6M112.1 515.9V541.6M119.8 534.1V542.9M123.7 530.3V542.2M127.5 515.2V540.4M135.3 486.3V535.3M143.0 476.9V499.1M154.6 440.2V489.4M170.1 460.9V485.4M174.0 457.8V467.8M181.7 447.7V470.4M193.3 458.3V480.3M201.0 474.6V477.8M204.9 469.0V479.0M208.8 450.8V475.3M212.6 443.8V465.8M216.5 437.3V457.0M232.0 455.2V461.4M243.6 453.6V482.2M255.2 488.4V492.2M259.1 483.0V491.0M282.3 506.0V511.3M293.9 525.8V545.9M301.6 526.4V542.7M309.3 537.4V545.9M313.2 520.1V542.1M317.1 512.3V524.5M336.4 562.2V584.8M344.1 565.3V601.4M348.0 564.7V582.3M359.6 562.2V580.2M363.5 549.6V568.5M367.4 534.5V555.3M371.2 501.6V540.5M375.1 497.2V524.2M386.7 478.3V512.9M390.6 476.4V488.4M394.4 468.9V492.1M409.9 490.3V514.7M413.8 470.8V494.0M421.5 469.5V481.5M437.0 495.9V526.7M456.3 575.3V604.8M464.1 521.9V596.6M471.8 533.8V544.5M479.5 541.4V569.0M483.4 532.6V562.1M495.0 549.5V574.6M498.9 550.2V558.9M506.6 551.4V567.7M514.3 530.7V558.3M522.1 500.9V543.9M525.9 505.3V513.5M529.8 500.1V510.4M545.3 537.0V559.6M560.8 553.9V574.6M568.5 562.1V589.1M580.1 596.6V606.7M584.0 592.6V607.3M587.8 566.5V598.5M591.7 566.5V580.9M599.4 561.5V572.8M603.3 541.4V569.6M618.8 535.1V569.6M622.6 531.3V554.5M626.5 511.5V532.2M630.4 509.6V524.7M634.2 514.0V521.6M638.1 510.9V524.7M645.9 504.0V521.6M653.6 492.9V522.2M657.5 486.4V502.1M661.3 489.1V496.4M680.7 534.1V548.6M684.5 524.1V542.3M692.3 519.0V530.4M711.6 515.9V546.1M715.5 515.3V525.3M723.2 487.0V524.1M727.1 473.2V502.7M730.9 468.8V483.9M738.7 463.1V479.5M746.4 460.0V471.3M754.2 475.1V485.8M761.9 465.7V486.4M769.6 478.8V487.6M773.5 470.7V482.6M777.4 451.6V476.1M781.2 419.9V456.0M808.3 448.5V477.4M812.2 392.6V459.8M816.0 387.8V410.8M819.9 385.3V399.5M823.8 388.5V400.1M827.6 345.3V391.1M831.5 268.5V356.0M839.3 232.7V300.1M847.0 247.8V292.0M858.6 240.3V270.4M862.5 227.1V261.6M866.3 219.5V251.6M870.2 179.8V226.4M874.1 172.9V196.9M881.8 183.6V210.1M893.4 196.3V248.4M901.1 183.0V213.2M908.9 191.3V210.7M916.6 206.3V230.8M920.5 178.6V220.8M928.2 151.6V204.1M932.1 166.0V178.6M936.0 157.8V183.0M947.6 152.8V210.7M955.3 153.4V177.9M963.0 123.3V158.8M966.9 97.5V139.0M970.8 93.1V120.2M982.4 189.2V244.6M997.8 176.3V232.2M1001.7 176.3V193.3M1013.3 213.4V226.6M1024.9 207.7V247.3M1028.8 219.0V238.5M1032.7 192.0V225.3M1036.5 180.7V207.7M1040.4 183.2V193.9M1044.3 182.6V196.4M1048.1 147.9V190.8M1063.6 210.5V244.4M1075.2 210.3V271.8M1079.1 196.2V224.1M1082.9 164.8V204.0M1090.7 115.2V171.7M1094.5 125.0V150.1M1102.3 82.8V175.5M1106.1 102.4V169.8M1113.9 107.0V158.9M1117.7 104.1V144.7M1137.1 126.5V158.9M1141.0 110.4V139.7M1156.4 146.9V250.7M1179.6 195.8V220.9M1183.5 187.0V215.3M1191.2 188.6V226.3M1199.0 182.0V205.5M1202.8 190.2V196.4M1218.3 200.2V219.0M1222.2 182.6V204.0M1229.9 200.2V210.9M1249.3 293.5V321.7M1257.0 298.1V323.6M1260.9 216.3V311.7M1268.6 275.9V345.5M1272.5 255.8V299.1M1295.7 329.9V390.7M1299.5 318.2V353.8M1307.3 309.4V351.8M1311.1 315.7V324.5M1318.9 315.1V336.4M1326.6 293.5V335.2M1342.1 301.3V324.5M1346.0 276.5V306.7M1357.6 286.3V304.1M1373.0 322.9V347.1M1376.9 307.3V336.4M1384.6 322.6V347.7M1388.5 315.1V343.3M1400.1 348.4V410.1M1407.8 325.8V399.9M1415.6 319.5V368.5M1419.5 304.4V332.9M1427.2 304.9V324.3M1434.9 307.1V330.1M1438.8 307.7V323.8M1446.5 306.4V318.0M1450.4 309.2V322.1M1454.3 279.4V310.8M1458.1 228.3V292.6M1462.0 221.4V246.5" stroke="#089981" stroke-width="1" stroke-opacity="0.62" fill="none"/>
<path d="M11.5 473.1V535.3M19.2 483.2V525.9M27.0 503.9V550.4M42.4 493.9V507.1M50.2 480.1V492.6M54.0 481.3V514.0M61.8 503.3V516.5M65.7 511.5V525.3M69.5 507.1V520.9M77.3 503.3V550.4M81.1 540.4V580.6M100.5 495.8V522.1M104.3 506.4V527.2M108.2 525.3V539.7M115.9 510.8V545.4M131.4 517.7V536.6M139.1 484.1V504.5M146.9 478.2V483.8M150.7 475.7V492.0M158.5 435.8V461.6M162.4 447.5V462.8M166.2 453.4V487.9M177.8 458.0V471.0M185.6 458.0V479.8M189.4 464.7V480.4M197.2 463.3V485.3M220.4 438.2V452.6M224.2 435.7V467.7M228.1 458.7V461.4M235.8 452.0V460.8M239.7 458.3V491.0M247.4 468.3V488.4M251.3 479.0V501.0M262.9 479.6V499.7M266.8 485.3V509.4M270.7 494.7V503.5M274.5 487.8V504.1M278.4 500.1V516.1M286.1 506.3V518.8M290.0 516.3V562.2M297.7 525.1V541.5M305.5 528.3V548.7M320.9 518.2V531.4M324.8 527.6V553.8M328.7 544.6V578.5M332.5 571.6V607.7M340.3 562.8V587.3M351.9 553.4V574.1M355.8 552.5V575.4M379.0 490.3V514.1M382.8 500.1V516.6M398.3 468.3V485.9M402.2 475.2V495.9M406.0 480.8V498.4M417.6 459.1V485.2M425.4 453.2V487.1M429.2 482.1V497.8M433.1 484.0V505.3M440.8 495.9V535.1M444.7 528.2V548.9M448.6 538.2V574.0M452.5 564.6V646.0M460.2 569.0V598.5M467.9 528.8V551.4M475.7 531.3V563.3M487.3 531.3V561.5M491.1 549.5V584.1M502.7 545.1V562.7M510.5 534.4V560.8M518.2 534.4V549.5M533.7 505.3V521.0M537.5 517.3V565.9M541.4 545.8V567.5M549.2 548.9V569.0M553.0 553.9V558.9M556.9 556.4V573.4M564.6 550.2V572.1M572.4 564.0V588.5M576.2 576.5V617.4M595.6 567.1V589.7M607.2 541.4V552.0M611.0 543.9V559.6M614.9 555.2V570.9M642.0 503.3V523.4M649.7 503.3V519.7M665.2 491.2V495.8M669.1 494.5V520.3M672.9 509.0V546.1M676.8 525.3V547.3M688.4 525.3V531.0M696.1 505.9V527.8M700.0 517.8V529.7M703.9 524.7V544.2M707.7 536.6V558.0M719.3 517.2V528.5M734.8 473.8V485.1M742.6 466.3V471.9M750.3 460.0V483.9M758.0 477.6V500.8M765.8 465.7V495.8M785.1 425.9V440.9M789.0 429.0V457.3M792.8 438.4V464.8M796.7 454.7V462.3M800.6 459.1V478.0M804.4 458.5V482.0M835.4 263.5V311.4M843.1 248.4V296.3M850.9 249.0V264.1M854.7 251.6V276.7M877.9 177.9V196.9M885.7 180.5V241.5M889.5 218.3V257.8M897.3 202.6V220.8M905.0 193.8V207.6M912.7 188.0V223.3M924.3 137.1V245.3M939.8 159.7V225.2M943.7 187.4V224.5M951.4 147.2V177.3M959.2 146.3V164.7M974.6 110.1V170.4M978.5 145.3V212.6M986.2 176.1V204.4M990.1 195.7V225.2M994.0 205.2V242.3M1005.6 172.6V215.9M1009.4 196.4V234.1M1017.2 217.2V237.9M1021.0 219.0V253.0M1052.0 144.7V207.5M1055.9 197.1V241.7M1059.7 215.3V254.0M1067.5 217.8V228.8M1071.3 215.0V231.0M1086.8 162.9V195.8M1098.4 111.7V174.9M1110.0 110.8V139.7M1121.6 121.7V132.2M1125.5 120.0V147.2M1129.4 141.6V191.4M1133.2 136.3V168.6M1144.8 114.2V158.2M1148.7 145.1V168.6M1152.6 157.3V206.7M1160.3 154.8V207.5M1164.2 178.8V206.7M1168.0 178.8V211.5M1171.9 169.4V211.5M1175.8 200.2V210.3M1187.4 185.8V219.0M1195.1 189.1V215.9M1206.7 193.3V208.4M1210.6 199.2V215.9M1214.4 202.5V233.9M1226.1 175.7V219.7M1233.8 203.3V215.9M1237.7 204.0V252.3M1241.5 242.0V303.9M1245.4 272.1V339.6M1253.1 311.4V376.0M1264.7 224.1V311.7M1276.3 239.1V285.9M1280.2 253.9V314.8M1284.1 294.1V310.4M1287.9 299.1V359.7M1291.8 322.0V383.9M1303.4 318.8V360.1M1315.0 311.9V340.2M1322.8 322.0V348.7M1330.5 289.1V324.5M1334.4 314.4V329.9M1338.2 317.6V324.5M1349.8 279.0V300.4M1353.7 281.5V304.1M1361.4 289.1V325.8M1365.3 317.6V344.0M1369.2 326.4V344.6M1380.8 278.8V347.7M1392.4 319.5V337.1M1396.2 325.1V386.7M1404.0 351.5V394.8M1411.7 334.5V374.1M1423.3 302.5V330.8M1431.1 298.9V325.3M1442.7 311.5V319.0M1465.9 229.2V249.0" stroke="#f23645" stroke-width="1" stroke-opacity="0.62" fill="none"/>
<path d="M13.9 493.9h3v16.3h-3zM21.6 512.1h3v3.8h-3zM29.3 514.6h3v22.0h-3zM33.2 512.1h3v2.5h-3zM37.1 501.2h3v10.9h-3zM44.8 483.2h3v18.0h-3zM56.4 506.1h3v1.6h-3zM71.9 512.1h3v6.9h-3zM83.5 556.7h3v7.5h-3zM87.4 520.3h3v36.4h-3zM91.2 511.5h3v9.4h-3zM95.1 509.9h3v1.5h-3zM110.6 519.0h3v18.2h-3zM118.3 539.7h3v1.0h-3zM122.2 534.1h3v6.9h-3zM126.0 520.3h3v14.4h-3zM133.8 488.8h3v45.2h-3zM141.5 481.3h3v17.8h-3zM153.1 440.2h3v49.2h-3zM168.6 467.8h3v6.3h-3zM172.5 460.9h3v6.9h-3zM180.2 459.0h3v9.8h-3zM191.8 469.0h3v7.8h-3zM199.5 475.5h3v2.0h-3zM203.4 474.6h3v1.0h-3zM207.3 465.2h3v9.8h-3zM211.1 448.2h3v17.2h-3zM215.0 443.2h3v5.4h-3zM230.5 457.0h3v3.4h-3zM242.1 470.2h3v8.8h-3zM253.7 489.7h3v1.9h-3zM257.6 485.9h3v4.1h-3zM280.8 507.8h3v2.0h-3zM292.4 531.2h3v14.7h-3zM300.1 532.9h3v7.9h-3zM307.8 540.2h3v5.0h-3zM311.7 522.4h3v17.8h-3zM315.6 521.6h3v1.3h-3zM334.9 564.3h3v15.5h-3zM342.6 578.9h3v8.0h-3zM346.5 566.8h3v12.6h-3zM358.1 568.1h3v4.8h-3zM362.0 554.6h3v13.4h-3zM365.9 540.5h3v14.6h-3zM369.7 502.8h3v36.4h-3zM373.6 500.3h3v2.5h-3zM385.2 485.2h3v25.1h-3zM389.1 480.8h3v4.4h-3zM392.9 471.4h3v9.4h-3zM408.4 493.4h3v4.4h-3zM412.3 472.9h3v20.5h-3zM420.0 470.2h3v3.8h-3zM435.5 498.0h3v6.7h-3zM454.8 585.1h3v19.7h-3zM462.6 530.7h3v63.2h-3zM470.3 538.8h3v1.0h-3zM478.0 554.2h3v5.8h-3zM481.9 542.0h3v12.2h-3zM493.5 558.3h3v12.6h-3zM497.4 552.9h3v5.4h-3zM505.1 552.4h3v10.3h-3zM512.8 537.0h3v20.1h-3zM520.6 509.1h3v34.8h-3zM524.4 508.5h3v1.3h-3zM528.3 507.8h3v1.3h-3zM543.8 553.9h3v3.5h-3zM559.3 556.2h3v17.6h-3zM567.0 567.1h3v4.4h-3zM578.6 603.2h3v2.0h-3zM582.5 596.9h3v6.3h-3zM586.3 575.9h3v20.1h-3zM590.2 570.0h3v5.9h-3zM597.9 565.5h3v7.0h-3zM601.8 542.9h3v22.6h-3zM617.3 545.1h3v19.5h-3zM621.1 531.6h3v12.9h-3zM625.0 520.1h3v11.8h-3zM628.9 518.0h3v2.3h-3zM632.7 516.3h3v1.8h-3zM636.6 514.3h3v2.0h-3zM644.4 507.7h3v8.2h-3zM652.1 499.2h3v19.6h-3zM656.0 493.3h3v6.3h-3zM659.8 492.9h3v1.0h-3zM679.2 541.0h3v1.3h-3zM683.0 528.5h3v13.2h-3zM690.8 520.9h3v8.2h-3zM710.1 525.1h3v20.4h-3zM714.0 517.8h3v6.9h-3zM721.7 491.2h3v30.4h-3zM725.6 481.4h3v9.8h-3zM729.4 476.1h3v5.5h-3zM737.2 468.8h3v10.1h-3zM744.9 463.1h3v5.9h-3zM752.7 478.2h3v1.0h-3zM760.4 471.1h3v15.1h-3zM768.1 482.4h3v4.0h-3zM772.0 472.8h3v9.5h-3zM775.9 454.7h3v18.8h-3zM779.7 428.0h3v27.1h-3zM806.8 458.9h3v15.3h-3zM810.7 400.7h3v59.0h-3zM814.5 398.2h3v2.5h-3zM818.4 391.9h3v6.3h-3zM822.3 390.3h3v1.6h-3zM826.1 355.4h3v35.7h-3zM830.0 276.7h3v79.3h-3zM837.8 261.0h3v23.0h-3zM845.5 255.3h3v35.8h-3zM857.1 261.4h3v5.5h-3zM861.0 243.0h3v18.3h-3zM864.8 224.2h3v18.6h-3zM868.7 185.5h3v39.1h-3zM872.6 180.5h3v5.7h-3zM880.3 189.9h3v2.9h-3zM891.9 209.1h3v38.1h-3zM899.6 194.8h3v16.8h-3zM907.4 196.9h3v7.9h-3zM915.1 209.1h3v1.0h-3zM919.0 183.0h3v26.9h-3zM926.7 172.3h3v27.5h-3zM930.6 171.7h3v1.3h-3zM934.5 159.7h3v11.9h-3zM946.1 159.7h3v43.1h-3zM953.8 157.8h3v13.6h-3zM961.5 129.9h3v28.5h-3zM965.4 114.1h3v15.1h-3zM969.3 112.9h3v1.0h-3zM980.9 192.3h3v3.4h-3zM996.3 184.5h3v36.4h-3zM1000.2 177.3h3v6.5h-3zM1011.8 217.2h3v9.2h-3zM1023.4 233.5h3v7.5h-3zM1027.3 224.1h3v9.8h-3zM1031.2 200.8h3v23.5h-3zM1035.0 188.6h3v11.8h-3zM1038.9 187.9h3v1.0h-3zM1042.8 186.6h3v1.6h-3zM1046.6 150.1h3v36.0h-3zM1062.1 221.3h3v20.4h-3zM1073.7 222.8h3v1.0h-3zM1077.6 204.0h3v18.8h-3zM1081.4 166.5h3v37.5h-3zM1089.2 132.5h3v38.9h-3zM1093.0 129.6h3v3.1h-3zM1100.8 151.0h3v9.2h-3zM1104.6 113.3h3v37.7h-3zM1112.4 134.7h3v2.1h-3zM1116.2 125.3h3v9.4h-3zM1135.6 136.3h3v22.2h-3zM1139.5 126.8h3v9.2h-3zM1154.9 157.7h3v36.0h-3zM1178.1 204.0h3v1.0h-3zM1182.0 195.4h3v8.5h-3zM1189.7 190.8h3v20.1h-3zM1197.5 194.5h3v8.2h-3zM1201.3 193.7h3v1.0h-3zM1216.8 203.0h3v9.8h-3zM1220.7 186.6h3v16.3h-3zM1228.4 203.3h3v4.4h-3zM1247.8 315.5h3v5.7h-3zM1255.5 302.3h3v17.0h-3zM1259.4 225.1h3v77.6h-3zM1267.1 291.3h3v10.3h-3zM1271.0 259.2h3v32.4h-3zM1294.2 332.0h3v40.8h-3zM1298.0 325.8h3v6.3h-3zM1305.8 322.4h3v27.6h-3zM1309.6 319.1h3v4.1h-3zM1317.4 321.6h3v13.8h-3zM1325.1 294.3h3v39.8h-3zM1340.6 302.3h3v21.6h-3zM1344.5 289.1h3v13.6h-3zM1356.1 292.2h3v2.1h-3zM1371.5 336.2h3v1.0h-3zM1375.4 311.1h3v25.1h-3zM1383.1 330.2h3v6.5h-3zM1387.0 323.2h3v6.3h-3zM1398.6 367.6h3v7.5h-3zM1406.3 335.2h3v59.7h-3zM1414.1 327.6h3v36.4h-3zM1418.0 309.8h3v17.8h-3zM1425.7 316.2h3v8.0h-3zM1433.4 321.8h3v3.3h-3zM1437.3 312.7h3v9.0h-3zM1445.0 312.1h3v5.7h-3zM1448.9 310.8h3v1.0h-3zM1452.8 288.8h3v22.0h-3zM1456.6 233.0h3v55.9h-3zM1460.5 230.2h3v2.8h-3z" fill="#089981"/>
<path d="M10.0 481.1h3v28.9h-3zM17.7 493.9h3v22.0h-3zM25.5 512.1h3v23.9h-3zM40.9 500.2h3v1.3h-3zM48.7 483.2h3v4.4h-3zM52.5 487.6h3v20.1h-3zM60.3 506.4h3v6.3h-3zM64.2 512.7h3v3.1h-3zM68.0 516.2h3v2.8h-3zM75.8 512.1h3v30.2h-3zM79.6 542.2h3v22.0h-3zM99.0 510.2h3v8.8h-3zM102.8 519.0h3v7.3h-3zM106.7 526.3h3v10.3h-3zM114.4 519.0h3v21.6h-3zM129.9 520.3h3v13.8h-3zM137.6 489.1h3v10.4h-3zM145.4 481.6h3v1.0h-3zM149.2 482.6h3v6.3h-3zM157.0 440.2h3v11.9h-3zM160.9 452.1h3v10.7h-3zM164.7 461.6h3v11.9h-3zM176.3 460.9h3v6.9h-3zM184.1 460.1h3v9.7h-3zM187.9 469.7h3v7.2h-3zM195.7 469.2h3v7.9h-3zM218.9 443.6h3v2.1h-3zM222.7 446.1h3v13.8h-3zM226.6 459.9h3v1.0h-3zM234.3 457.3h3v1.0h-3zM238.2 458.3h3v20.7h-3zM245.9 470.2h3v14.4h-3zM249.8 484.7h3v6.9h-3zM261.4 485.9h3v1.0h-3zM265.3 486.8h3v12.3h-3zM269.2 499.4h3v1.6h-3zM273.0 501.0h3v1.0h-3zM276.9 501.9h3v7.9h-3zM284.6 507.8h3v11.1h-3zM288.5 518.8h3v27.0h-3zM296.2 531.2h3v9.7h-3zM304.0 532.9h3v12.3h-3zM319.4 521.6h3v7.0h-3zM323.3 528.9h3v17.8h-3zM327.2 546.7h3v29.3h-3zM331.0 576.0h3v3.8h-3zM338.8 564.3h3v22.6h-3zM350.4 567.2h3v2.1h-3zM354.3 570.1h3v2.8h-3zM377.5 500.3h3v8.8h-3zM381.3 508.8h3v1.5h-3zM396.8 471.4h3v5.3h-3zM400.7 476.7h3v15.5h-3zM404.5 492.1h3v5.7h-3zM416.1 472.9h3v1.0h-3zM423.9 470.2h3v13.8h-3zM427.7 484.0h3v5.7h-3zM431.6 490.0h3v14.7h-3zM439.3 498.0h3v36.4h-3zM443.2 534.4h3v6.9h-3zM447.1 542.0h3v23.9h-3zM451.0 565.9h3v38.9h-3zM458.7 585.1h3v8.8h-3zM466.4 530.7h3v8.8h-3zM474.2 539.5h3v20.5h-3zM485.8 542.0h3v18.0h-3zM489.6 559.9h3v10.9h-3zM501.2 553.3h3v9.4h-3zM509.0 552.9h3v4.1h-3zM516.7 537.0h3v6.9h-3zM532.2 508.5h3v11.9h-3zM536.0 521.7h3v32.0h-3zM539.9 553.3h3v3.8h-3zM547.7 554.2h3v2.3h-3zM551.5 556.7h3v1.0h-3zM555.4 557.4h3v16.0h-3zM563.1 556.2h3v15.3h-3zM570.9 567.1h3v17.0h-3zM574.7 584.1h3v20.7h-3zM594.1 570.3h3v2.3h-3zM605.7 542.9h3v5.0h-3zM609.5 547.9h3v7.9h-3zM613.4 555.8h3v8.8h-3zM640.5 514.6h3v1.9h-3zM648.2 508.0h3v11.1h-3zM663.7 492.9h3v2.3h-3zM667.6 495.2h3v21.6h-3zM671.4 516.8h3v24.2h-3zM675.3 541.0h3v1.3h-3zM686.9 528.5h3v1.0h-3zM694.6 521.6h3v5.7h-3zM698.5 527.2h3v1.3h-3zM702.4 527.8h3v14.4h-3zM706.2 542.3h3v3.1h-3zM717.8 518.0h3v3.5h-3zM733.3 476.3h3v2.3h-3zM741.1 468.5h3v1.0h-3zM748.8 463.1h3v15.7h-3zM756.5 478.8h3v7.3h-3zM764.3 471.3h3v14.8h-3zM783.6 428.4h3v3.8h-3zM787.5 431.8h3v20.1h-3zM791.3 451.6h3v7.3h-3zM795.2 458.5h3v1.6h-3zM799.1 460.2h3v5.9h-3zM802.9 466.1h3v8.2h-3zM833.9 276.7h3v7.3h-3zM841.6 261.0h3v30.2h-3zM849.4 255.6h3v4.1h-3zM853.2 259.7h3v7.2h-3zM876.4 180.5h3v12.3h-3zM884.2 189.9h3v47.2h-3zM888.0 237.1h3v10.1h-3zM895.8 209.5h3v2.1h-3zM903.5 194.8h3v10.3h-3zM911.2 197.3h3v12.8h-3zM922.8 183.0h3v15.8h-3zM938.3 159.7h3v35.9h-3zM942.2 196.0h3v6.8h-3zM949.9 159.7h3v11.3h-3zM957.7 157.2h3v1.3h-3zM973.1 112.9h3v56.9h-3zM977.0 170.2h3v25.5h-3zM984.7 192.3h3v5.0h-3zM988.6 197.3h3v21.0h-3zM992.5 217.8h3v3.1h-3zM1004.1 177.6h3v33.9h-3zM1007.9 211.8h3v14.2h-3zM1015.7 217.2h3v15.1h-3zM1019.5 231.4h3v9.7h-3zM1050.5 150.1h3v49.8h-3zM1054.4 199.9h3v18.5h-3zM1058.2 218.4h3v23.2h-3zM1066.0 221.3h3v1.3h-3zM1069.8 222.6h3v1.0h-3zM1085.3 167.0h3v4.5h-3zM1096.9 130.0h3v29.8h-3zM1108.5 113.3h3v23.9h-3zM1120.1 125.3h3v1.0h-3zM1124.0 126.8h3v20.1h-3zM1127.9 147.2h3v4.4h-3zM1131.7 151.9h3v6.7h-3zM1143.3 126.8h3v22.1h-3zM1147.2 148.9h3v16.3h-3zM1151.1 165.2h3v28.1h-3zM1158.8 157.7h3v34.7h-3zM1162.7 191.7h3v11.3h-3zM1166.5 203.0h3v1.0h-3zM1170.4 203.1h3v1.0h-3zM1174.3 204.0h3v1.0h-3zM1185.9 195.4h3v15.5h-3zM1193.6 190.8h3v11.9h-3zM1205.2 193.9h3v13.8h-3zM1209.1 208.4h3v3.1h-3zM1212.9 211.3h3v1.5h-3zM1224.6 187.0h3v20.7h-3zM1232.3 203.3h3v3.4h-3zM1236.2 206.5h3v44.2h-3zM1240.0 251.1h3v27.6h-3zM1243.9 278.8h3v42.3h-3zM1251.6 316.5h3v2.5h-3zM1263.2 225.1h3v76.6h-3zM1274.8 259.2h3v7.3h-3zM1278.7 266.2h3v29.8h-3zM1282.6 296.0h3v5.4h-3zM1286.4 301.5h3v51.5h-3zM1290.3 352.8h3v20.1h-3zM1301.9 324.9h3v25.1h-3zM1313.5 319.1h3v16.3h-3zM1321.3 322.9h3v11.3h-3zM1329.0 294.7h3v25.6h-3zM1332.9 320.1h3v1.3h-3zM1336.7 321.6h3v2.3h-3zM1348.3 288.8h3v1.0h-3zM1352.2 289.3h3v5.4h-3zM1359.9 292.2h3v26.6h-3zM1363.8 318.2h3v17.2h-3zM1367.7 335.4h3v1.6h-3zM1379.3 311.1h3v24.7h-3zM1390.9 323.2h3v3.1h-3zM1394.7 326.6h3v48.5h-3zM1402.5 367.8h3v27.0h-3zM1410.2 335.2h3v28.9h-3zM1421.8 309.8h3v14.7h-3zM1429.6 316.2h3v8.4h-3zM1441.2 312.7h3v5.0h-3zM1464.4 230.2h3v11.3h-3z" fill="#f23645"/>
</g>
<path d="M10 241.5H1522" stroke="#f23645" stroke-width="1" stroke-dasharray="1 1.6" stroke-opacity="0.55" fill="none"/>
<rect x="764.2" y="59.2" width="154.4" height="23.6" rx="4" fill="#b8cbe8" filter="url(#sh)"/>
<text x="841.4" y="75.4" font-size="12.5" fill="#131722" textLength="136.5" lengthAdjust="spacingAndGlyphs" text-anchor="middle">48,323 (80.48%) 48,323</text>
<rect x="67.8" y="402.2" width="155.4" height="23.4" rx="4" fill="#b8cbe8" filter="url(#sh)"/>
<text x="145.5" y="418.3" font-size="12.5" fill="#131722" textLength="136.5" lengthAdjust="spacingAndGlyphs" text-anchor="middle">10,850 (17.76%) 10,850</text>
<rect x="336.4" y="420.6" width="139.2" height="23.2" rx="4" fill="#b8cbe8" filter="url(#sh)"/>
<text x="406.0" y="436.6" font-size="12.5" fill="#131722" textLength="122.0" lengthAdjust="spacingAndGlyphs" text-anchor="middle">6,713 (10.60%) 6,713</text>
<path d="M812.5 683.0 L816.2 682.0 L820.0 680.8 L823.8 680.5 L827.5 672.5 L831.2 664.2 L835.0 666.8 L838.8 665.5 L842.5 677.5 L846.2 673.0 L850.0 675.0 L854.5 678.0 L858.8 677.0 L863.8 673.8 L867.5 669.5 L870.5 667.5 L873.8 667.5 L877.5 672.5 L882.5 672.5 L886.2 691.2 L885.0 683.5 L812.0 683.5Z" fill="url(#ob)" clip-path="url(#ob70)"/>
<path d="M10.0 705.5 L20.0 708.8 L30.0 711.2 L40.0 713.0 L50.0 714.0 L62.5 715.0 L75.0 715.8 L87.5 716.5 L100.0 716.5 L112.5 717.0 L125.0 716.2 L132.5 715.0 L140.0 712.0 L150.0 709.5 L160.0 705.0 L170.0 702.0 L177.5 700.0 L185.0 698.8 L195.0 699.2 L205.0 700.5 L215.0 701.0 L225.0 700.8 L235.0 701.2 L245.0 703.2 L255.0 705.0 L262.5 707.0 L270.0 711.2 L277.5 715.5 L285.0 720.0 L292.5 723.8 L300.0 725.8 L307.5 727.5 L315.0 727.5 L325.0 727.5 L335.0 729.2 L345.0 728.8 L355.0 728.2 L365.0 726.2 L375.0 722.5 L382.5 718.8 L390.0 712.5 L397.5 705.0 L400.0 703.0 L407.5 699.5 L415.0 695.5 L422.5 693.8 L430.0 694.5 L437.5 696.2 L445.0 701.2 L452.5 707.5 L460.0 712.5 L467.5 715.5 L475.0 718.0 L482.5 720.0 L490.0 721.2 L497.5 720.5 L505.0 718.0 L512.5 715.5 L520.0 713.8 L527.5 711.5 L535.0 710.0 L542.5 709.5 L550.0 709.5 L557.5 710.5 L565.0 711.2 L572.5 713.8 L580.0 717.5 L587.5 719.5 L595.0 719.5 L602.5 718.0 L610.0 716.2 L617.5 714.5 L625.0 711.2 L632.5 706.2 L640.0 702.5 L647.5 700.0 L655.0 697.5 L662.5 695.5 L668.8 693.2 L675.0 695.5 L682.5 697.5 L690.0 699.5 L697.5 702.0 L705.0 705.0 L712.5 708.0 L720.0 709.5 L727.5 706.2 L735.0 702.5 L742.5 698.8 L750.0 696.2 L757.5 694.5 L765.0 692.5 L772.5 692.0 L780.0 691.2 L787.5 691.2 L795.0 693.0 L800.0 695.0 L807.5 695.8 L815.0 693.8 L822.5 690.8 L830.0 688.0 L837.5 685.8 L845.0 683.2 L852.5 679.5 L860.0 675.8 L867.5 673.0 L875.0 672.0 L881.2 672.0 L887.5 674.5 L895.0 677.5 L902.5 679.2 L910.0 681.2 L917.5 683.8 L925.0 686.2 L932.5 688.0 L940.0 689.5 L947.5 690.8 L955.0 691.5 L962.5 691.2 L971.2 690.5 L977.5 692.5 L985.0 695.8 L992.5 698.8 L1000.0 700.5 L1007.5 703.2 L1015.0 707.5 L1022.5 711.8 L1028.8 714.0 L1035.0 713.8 L1042.5 712.5 L1050.0 710.5 L1057.5 711.2 L1065.0 711.2 L1072.5 710.5 L1080.0 709.2 L1087.5 707.5 L1095.0 706.2 L1102.5 705.8 L1110.0 703.8 L1117.5 701.2 L1125.0 698.8 L1132.5 697.5 L1140.0 698.0 L1147.5 700.0 L1155.0 702.5 L1162.5 705.5 L1170.0 708.8 L1177.5 711.2 L1185.0 713.0 L1192.5 715.0 L1200.0 716.2 L1210.0 717.5 L1220.0 716.2 L1230.0 715.0 L1237.5 716.2 L1245.0 719.5 L1252.5 723.0 L1260.0 724.5 L1267.5 724.2 L1275.0 725.0 L1282.5 726.2 L1290.0 727.0 L1297.5 725.0 L1305.0 722.5 L1312.5 721.2 L1320.0 720.8 L1327.5 720.5 L1335.0 720.0 L1342.5 717.5 L1350.0 715.0 L1357.5 713.2 L1365.0 713.2 L1375.0 713.2 L1385.0 713.8 L1392.5 713.8 L1400.0 716.2 L1407.5 718.0 L1415.0 718.0 L1422.5 716.2 L1430.0 715.0 L1437.5 713.8 L1445.0 713.0 L1452.5 710.0 L1460.0 705.0 L1465.0 702.0" stroke="#f6c945" stroke-width="1" stroke-linejoin="round" fill="none"/>
<path d="M10.0 716.2 L15.0 714.5 L18.8 719.5 L22.5 718.8 L26.8 723.8 L31.2 717.0 L35.0 715.8 L40.0 712.0 L45.0 707.0 L48.8 708.0 L53.8 714.5 L58.0 714.5 L62.5 716.2 L67.5 718.0 L72.5 716.2 L76.2 723.8 L80.5 730.8 L83.8 727.5 L87.5 715.0 L91.2 710.0 L95.8 709.0 L100.0 711.2 L105.0 715.0 L108.0 718.8 L111.8 712.0 L115.5 718.0 L119.5 718.0 L123.8 715.0 L127.5 710.5 L130.5 714.5 L135.0 700.0 L138.8 702.5 L143.0 698.0 L146.8 698.8 L150.5 700.5 L154.5 688.2 L158.8 693.8 L162.5 697.5 L166.2 701.2 L170.0 699.5 L173.8 697.5 L177.5 700.5 L181.2 698.8 L185.0 702.5 L188.8 705.0 L192.5 703.0 L196.8 706.2 L201.2 705.5 L205.5 705.0 L210.0 698.8 L213.0 694.5 L216.2 692.5 L220.0 694.5 L224.2 702.0 L228.8 702.5 L232.5 700.5 L236.2 702.5 L239.5 713.2 L243.0 709.5 L246.2 715.0 L250.8 719.5 L255.0 718.0 L258.8 715.5 L262.5 717.0 L266.2 722.0 L271.2 723.8 L275.0 725.5 L278.8 728.0 L282.5 726.2 L286.2 732.5 L290.0 741.2 L293.8 730.0 L297.5 732.5 L301.2 728.2 L305.0 732.0 L310.0 727.5 L313.8 717.5 L317.0 717.0 L320.5 720.5 L323.8 727.5 L328.0 737.0 L332.0 737.5 L335.8 728.8 L339.5 734.5 L343.8 728.8 L347.5 723.0 L351.2 724.5 L355.5 725.5 L360.0 722.0 L363.8 715.0 L367.5 707.5 L371.2 694.5 L375.0 693.8 L378.8 698.0 L382.5 698.8 L386.2 691.2 L390.0 689.5 L394.5 686.2 L398.0 689.5 L400.0 693.8 L403.8 699.5 L407.5 701.2 L412.5 692.0 L417.0 692.0 L421.2 690.8 L425.0 698.8 L428.8 702.0 L433.8 710.0 L437.5 707.0 L441.2 722.0 L445.0 725.0 L448.8 732.0 L452.5 740.0 L456.2 731.2 L460.0 733.0 L463.8 710.5 L467.5 712.5 L471.2 713.0 L475.8 718.0 L479.5 716.2 L483.2 712.5 L487.0 717.0 L490.5 720.5 L494.5 716.2 L498.2 713.8 L502.0 716.2 L506.2 713.0 L510.0 714.5 L514.2 707.0 L517.5 708.8 L521.8 698.8 L525.8 698.2 L529.5 698.0 L533.8 703.8 L537.5 715.0 L541.2 716.2 L545.0 715.0 L548.8 715.8 L552.5 717.0 L556.8 722.5 L560.5 714.5 L564.2 718.8 L568.0 718.0 L572.0 723.8 L575.8 729.2 L580.0 728.8 L584.5 725.0 L588.0 715.0 L592.0 712.5 L595.5 713.0 L599.2 709.5 L603.2 701.2 L607.0 703.8 L610.8 707.0 L614.5 710.5 L618.8 703.0 L622.5 698.0 L626.8 693.8 L631.2 693.0 L636.2 692.5 L641.2 693.2 L645.0 690.0 L648.8 696.2 L652.5 690.0 L656.2 688.0 L661.2 687.5 L665.0 688.8 L668.8 698.8 L672.5 713.8 L676.2 715.8 L680.0 715.0 L684.2 708.8 L688.0 708.0 L691.8 704.5 L695.5 707.5 L699.5 708.2 L703.2 716.2 L707.0 718.0 L710.8 706.2 L714.5 702.5 L718.2 703.8 L722.5 692.0 L726.2 688.2 L730.0 686.8 L734.2 687.0 L738.2 684.5 L742.0 684.5 L746.2 682.5 L750.0 693.8 L753.8 694.2 L757.5 699.5 L761.2 693.8 L765.5 702.0 L770.0 700.0 L773.8 696.2 L777.5 688.8 L781.2 680.5 L785.0 683.0 L788.8 695.0 L792.5 698.8 L796.2 700.0 L800.0 702.5 L803.8 707.5 L808.8 700.0 L812.5 683.0 L816.2 682.0 L820.0 680.8 L823.8 680.5 L827.5 672.5 L831.2 664.2 L835.0 666.8 L838.8 665.5 L842.5 677.5 L846.2 673.0 L850.0 675.0 L854.5 678.0 L858.8 677.0 L863.8 673.8 L867.5 669.5 L870.5 667.5 L873.8 667.5 L877.5 672.5 L882.5 672.5 L886.2 691.2 L890.0 694.5 L893.8 687.0 L897.5 687.5 L901.2 685.0 L905.0 688.0 L908.8 687.5 L913.0 692.5 L916.8 692.5 L920.5 687.0 L924.2 692.5 L928.0 687.0 L931.8 687.5 L935.5 685.0 L939.5 698.0 L943.0 700.5 L947.0 691.2 L950.8 694.5 L955.0 692.0 L959.2 692.5 L963.0 687.5 L966.8 683.8 L971.2 683.2 L974.5 702.5 L978.0 710.0 L982.0 708.8 L985.8 710.5 L989.5 715.8 L993.8 716.2 L997.5 706.2 L1001.2 704.5 L1005.0 713.8 L1009.5 717.0 L1012.5 714.5 L1016.2 717.5 L1020.5 720.5 L1024.5 718.0 L1028.2 715.0 L1032.5 708.0 L1036.8 703.8 L1040.5 703.2 L1044.2 703.2 L1048.0 693.8 L1051.8 708.8 L1055.5 714.5 L1059.5 719.5 L1063.8 713.8 L1067.5 714.2 L1071.2 714.2 L1075.0 714.2 L1078.8 708.2 L1082.5 698.0 L1086.2 699.5 L1090.0 690.8 L1093.8 690.0 L1097.5 700.0 L1101.2 698.0 L1105.0 690.8 L1110.0 697.5 L1113.8 697.0 L1117.5 695.0 L1121.2 695.8 L1125.0 702.5 L1128.8 704.2 L1132.5 706.2 L1136.2 700.8 L1140.0 698.2 L1144.5 705.0 L1148.8 712.0 L1152.5 718.0 L1156.2 708.2 L1160.0 716.2 L1163.8 718.8 L1168.8 719.2 L1175.0 719.5 L1180.0 719.2 L1183.8 716.2 L1187.5 720.5 L1191.2 713.0 L1195.0 715.8 L1200.0 713.0 L1203.8 713.8 L1207.5 718.0 L1211.2 719.5 L1214.5 719.5 L1218.0 714.5 L1221.8 708.0 L1225.5 715.0 L1229.5 714.2 L1233.2 716.2 L1237.5 729.5 L1241.2 736.2 L1245.0 743.0 L1248.8 741.2 L1252.5 741.2 L1257.0 734.5 L1260.8 708.0 L1264.5 723.0 L1268.2 720.0 L1272.5 713.2 L1276.2 714.5 L1280.0 720.5 L1284.5 722.0 L1288.0 730.0 L1291.8 732.5 L1295.5 722.0 L1299.2 720.5 L1303.0 724.5 L1306.8 718.0 L1310.5 717.0 L1314.5 720.5 L1318.2 716.2 L1322.0 718.0 L1325.8 709.5 L1329.5 714.5 L1333.8 715.0 L1337.5 715.5 L1341.8 710.5 L1345.8 706.8 L1350.0 706.2 L1353.8 708.0 L1357.5 707.5 L1361.2 715.0 L1365.0 719.5 L1368.8 720.0 L1372.5 719.5 L1376.2 710.5 L1380.5 717.5 L1384.2 715.8 L1388.0 713.8 L1391.8 714.5 L1395.5 727.5 L1399.2 725.8 L1403.2 730.0 L1407.5 712.0 L1411.2 717.0 L1415.0 709.5 L1419.5 705.5 L1423.2 708.2 L1427.0 706.8 L1430.8 708.8 L1434.5 708.0 L1438.2 705.8 L1442.0 706.8 L1445.8 705.5 L1449.5 705.0 L1453.8 698.8 L1457.5 686.2 L1461.2 686.2 L1465.0 690.5" stroke="#7e57c2" stroke-width="1" stroke-linejoin="round" fill="none"/>
<path d="M10 653.9H1590" stroke="#eef0f5" stroke-width="2" fill="none"/>
<rect x="9.5" y="25.5" width="1581" height="753" fill="none" stroke="#f1f1f3" stroke-width="1"/>
<text x="1531.4" y="626.1" font-size="11.6" fill="#131722" textLength="38.6" lengthAdjust="spacingAndGlyphs">52,000</text>
<text x="1531.4" y="588.4" font-size="11.6" fill="#131722" textLength="38.6" lengthAdjust="spacingAndGlyphs">56,000</text>
<text x="1531.4" y="550.7" font-size="11.6" fill="#131722" textLength="38.6" lengthAdjust="spacingAndGlyphs">60,000</text>
<text x="1531.4" y="513.0" font-size="11.6" fill="#131722" textLength="38.6" lengthAdjust="spacingAndGlyphs">64,000</text>
<text x="1531.4" y="475.3" font-size="11.6" fill="#131722" textLength="38.6" lengthAdjust="spacingAndGlyphs">68,000</text>
<text x="1531.4" y="437.7" font-size="11.6" fill="#131722" textLength="38.6" lengthAdjust="spacingAndGlyphs">72,000</text>
<text x="1531.4" y="400.0" font-size="11.6" fill="#131722" textLength="38.6" lengthAdjust="spacingAndGlyphs">76,000</text>
<text x="1531.4" y="362.3" font-size="11.6" fill="#131722" textLength="38.6" lengthAdjust="spacingAndGlyphs">80,000</text>
<text x="1531.4" y="173.9" font-size="11.6" fill="#131722" textLength="45.6" lengthAdjust="spacingAndGlyphs">100,000</text>
<text x="1531.4" y="136.2" font-size="11.6" fill="#131722" textLength="45.6" lengthAdjust="spacingAndGlyphs">104,000</text>
<text x="1531.4" y="98.5" font-size="11.6" fill="#131722" textLength="45.6" lengthAdjust="spacingAndGlyphs">108,000</text>
<text x="1531.4" y="60.8" font-size="11.6" fill="#131722" textLength="45.6" lengthAdjust="spacingAndGlyphs">112,000</text>
<rect x="1523" y="26" width="67" height="30.6" fill="#fff"/>
<rect x="1525.5" y="29.5" width="62" height="24" rx="4" fill="#fff" stroke="#eceef2" stroke-width="1"/>
<text x="1533.5" y="45.2" font-size="11.8" fill="#131722" textLength="23.5" lengthAdjust="spacingAndGlyphs">USD</text>
<rect x="1522.8" y="197.3" width="52.2" height="15.5" rx="1.5" fill="#363a45"/>
<text x="1570.0" y="209.4" font-size="11.6" fill="#fff" textLength="38.8" lengthAdjust="spacingAndGlyphs" text-anchor="end">95,000</text>
<rect x="1522.8" y="213.6" width="52.2" height="15.5" rx="1.5" fill="#2962ff"/>
<text x="1570.0" y="225.7" font-size="11.6" fill="#fff" textLength="38.8" lengthAdjust="spacingAndGlyphs" text-anchor="end">94,700</text>
<rect x="1522.8" y="234" width="62.2" height="28.7" rx="1.5" fill="#f23645"/>
<text x="1570.0" y="245.7" font-size="11.6" fill="#fff" textLength="38.8" lengthAdjust="spacingAndGlyphs" text-anchor="end">92,548</text>
<text x="1530.5" y="258.7" font-size="11.6" fill="#fff" textLength="49.0" lengthAdjust="spacingAndGlyphs" fill-opacity="0.85">13:17:17</text>
<rect x="1522.8" y="262.8" width="52.2" height="15.8" rx="1.5" fill="#800000"/>
<text x="1570.0" y="275.0" font-size="11.6" fill="#fff" textLength="38.8" lengthAdjust="spacingAndGlyphs" text-anchor="end">90,836</text>
<rect x="1522.8" y="279.0" width="52.2" height="15.7" rx="1.5" fill="#800080"/>
<text x="1570.0" y="291.2" font-size="11.6" fill="#fff" textLength="38.8" lengthAdjust="spacingAndGlyphs" text-anchor="end">88,690</text>
<rect x="1522.8" y="311.0" width="52.2" height="15.8" rx="1.5" fill="#ffff00"/>
<text x="1570.0" y="323.2" font-size="11.6" fill="#000" textLength="38.8" lengthAdjust="spacingAndGlyphs" text-anchor="end">84,379</text>
<text x="1562.5" y="680.7" font-size="11.6" fill="#131722" textLength="31.3" lengthAdjust="spacingAndGlyphs" text-anchor="end">75.00</text>
<text x="1562.5" y="746.9" font-size="11.6" fill="#131722" textLength="31.3" lengthAdjust="spacingAndGlyphs" text-anchor="end">25.00</text>
<rect x="1522.8" y="682.6" width="44.6" height="15.4" rx="1.5" fill="#7e57c2"/>
<text x="1562.5" y="694.0" font-size="11.6" fill="#fff" textLength="31.3" lengthAdjust="spacingAndGlyphs" text-anchor="end">64.50</text>
<rect x="1522.8" y="699.4" width="44.6" height="15.6" rx="1.5" fill="#fdd835"/>
<text x="1562.5" y="710.9" font-size="11.6" fill="#000" textLength="31.3" lengthAdjust="spacingAndGlyphs" text-anchor="end">55.42</text>
<text x="81.3" y="770.2" font-size="11.6" fill="#131722" text-anchor="middle">May</text>
<text x="201.3" y="770.2" font-size="11.6" fill="#131722" text-anchor="middle">Jun</text>
<text x="317.2" y="770.2" font-size="11.6" fill="#131722" text-anchor="middle">Jul</text>
<text x="437.5" y="770.2" font-size="11.6" fill="#131722" text-anchor="middle">Aug</text>
<text x="557.5" y="770.2" font-size="11.6" fill="#131722" text-anchor="middle">Sep</text>
<text x="673.3" y="770.2" font-size="11.6" fill="#131722" text-anchor="middle">Oct</text>
<text x="793.2" y="770.2" font-size="11.6" fill="#131722" text-anchor="middle">Nov</text>
<text x="909.0" y="770.2" font-size="11.6" fill="#131722" text-anchor="middle">Dec</text>
<text x="1029.2" y="770.2" font-size="11.6" fill="#131722" font-weight="bold" textLength="29.5" lengthAdjust="spacingAndGlyphs" text-anchor="middle">2025</text>
<text x="1148.6" y="770.2" font-size="11.6" fill="#131722" text-anchor="middle">Feb</text>
<text x="1257.3" y="770.2" font-size="11.6" fill="#131722" text-anchor="middle">Mar</text>
<text x="1377.4" y="770.2" font-size="11.6" fill="#131722" text-anchor="middle">Apr</text>
<text x="1492.7" y="770.2" font-size="11.6" fill="#131722" text-anchor="middle">May</text>
<text x="10.0" y="18.9" font-size="11.6" fill="#16181d" textLength="383.0" lengthAdjust="spacingAndGlyphs">kanguhalubale published on TradingView.com, Apr 24, 2025 10:42 UTC</text>
<text x="17.5" y="44.6" font-size="12" fill="#131722" textLength="193.5" lengthAdjust="spacingAndGlyphs">Bitcoin / U.S. Dollar · 1D · BITSTAMP</text>
<text x="217.6" y="44.6" font-size="12" fill="#131722">O</text>
<text x="227.0" y="44.6" font-size="12" fill="#f23645" textLength="37.3" lengthAdjust="spacingAndGlyphs">93,730</text>
<text x="270.8" y="44.6" font-size="12" fill="#131722">H</text>
<text x="279.6" y="44.6" font-size="12" fill="#f23645" textLength="37.3" lengthAdjust="spacingAndGlyphs">93,827</text>
<text x="323.8" y="44.6" font-size="12" fill="#131722">L</text>
<text x="330.2" y="44.6" font-size="12" fill="#f23645" textLength="36.2" lengthAdjust="spacingAndGlyphs">91,700</text>
<text x="372.6" y="44.6" font-size="12" fill="#131722">C</text>
<text x="381.4" y="44.6" font-size="12" fill="#f23645" textLength="38.0" lengthAdjust="spacingAndGlyphs">92,548</text>
<text x="426.3" y="44.6" font-size="12" fill="#f23645" textLength="86.7" lengthAdjust="spacingAndGlyphs">−1,182 (−1.26%)</text>
<text x="17.5" y="61.2" font-size="12" fill="#131722" textLength="215.0" lengthAdjust="spacingAndGlyphs">SMAs (50, close, 100, close, 200, close)</text>
<text x="240.0" y="61.2" font-size="12" fill="#ffff00" textLength="37.5" lengthAdjust="spacingAndGlyphs">84,379</text>
<text x="284.5" y="61.2" font-size="12" fill="#800000" textLength="38.5" lengthAdjust="spacingAndGlyphs">90,836</text>
<text x="330.0" y="61.2" font-size="12" fill="#800080" textLength="38.3" lengthAdjust="spacingAndGlyphs">88,690</text>
<text x="17.5" y="673.3" font-size="12" fill="#131722" textLength="76.0" lengthAdjust="spacingAndGlyphs">RSI (14, close)</text>
<text x="101.3" y="673.3" font-size="12" fill="#7e57c2" textLength="30.5" lengthAdjust="spacingAndGlyphs">64.50</text>
<text x="139.5" y="673.3" font-size="12" fill="#f6c945" textLength="30.5" lengthAdjust="spacingAndGlyphs">55.42</text>
<g fill="none" stroke="#9c27b0" stroke-width="1.5" stroke-linecap="round"><path d="M1475.4 613.9A9.5 9.5 0 0 1 1459.6 623.7"/><path d="M1457.1 615.2A9.5 9.5 0 0 1 1469.3 608.1"/></g>
<path d="M1468.7 612.5L1462.3 618.3h3.7L1463.1 623L1469.9 616.9h-3.7z" fill="#9c27b0"/>
<path d="M1456 616.3l1.25 3.25 3.25 1.25-3.25 1.25-1.25 3.25-1.25-3.25-3.25-1.25 3.25-1.25z" fill="#6f45ff"/>
<circle cx="1472.6" cy="611" r="2.6" fill="#f5222d"/>
<circle cx="1465.4" cy="641.4" r="9" fill="#fff" stroke="#f5222d" stroke-width="1.7"/>
<g clip-path="url(#c1)">
<rect x="1457.4" y="633" width="16" height="17" fill="#fff"/>
<rect x="1466.9" y="634.2" width="8" height="2.4" fill="#f44336"/>
<rect x="1466.9" y="639.6" width="8" height="3" fill="#f44336"/>
<rect x="1457.4" y="645.2" width="16" height="2.8" fill="#f44336"/>
<rect x="1457.6" y="633" width="9.8" height="9.6" fill="#2f80ed"/>
<path d="M1459.8 633v9.6M1462.1 633v9.6M1464.4 633v9.6M1457.6 636.4h9.6M1457.6 639.5h9.6" stroke="#e3eeff" stroke-opacity="0.8" stroke-width="0.6" fill="none"/>
</g>
<circle cx="1485.0" cy="641.4" r="9" fill="#fff" stroke="#f5222d" stroke-width="1.7"/>
<g clip-path="url(#c2)">
<rect x="1477.0" y="633" width="16" height="17" fill="#fff"/>
<rect x="1486.5" y="634.2" width="8" height="2.4" fill="#f44336"/>
<rect x="1486.5" y="639.6" width="8" height="3" fill="#f44336"/>
<rect x="1477.0" y="645.2" width="16" height="2.8" fill="#f44336"/>
<rect x="1477.2" y="633" width="9.8" height="9.6" fill="#2f80ed"/>
<path d="M1479.4 633v9.6M1481.7 633v9.6M1484.0 633v9.6M1477.2 636.4h9.6M1477.2 639.5h9.6" stroke="#e3eeff" stroke-opacity="0.8" stroke-width="0.6" fill="none"/>
</g>
<g fill="#0c0e14"><path d="M9.4 789.9h8.2v8.9h-4.5v-4.9H9.4z"/><circle cx="19.9" cy="791.7" r="1.85"/><path d="M20.6 798.8l2.7-8.9h5.1l-3.5 8.9z"/></g>
<text x="32.1" y="799.6" font-size="12.6" fill="#131722" textLength="70.3" lengthAdjust="spacingAndGlyphs">TradingView</text>
</svg>
</body></html>
